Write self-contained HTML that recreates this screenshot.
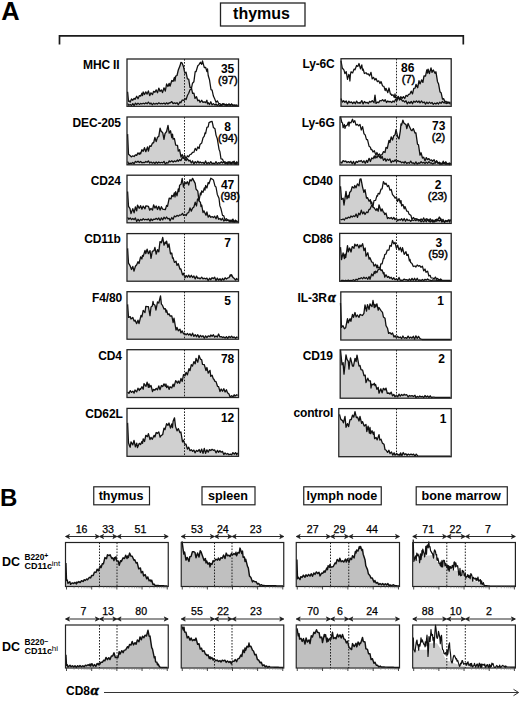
<!DOCTYPE html>
<html><head><meta charset="utf-8"><style>
html,body{margin:0;padding:0;background:#fff;}
body{width:520px;height:708px;overflow:hidden;}
svg{display:block;font-family:"Liberation Sans", sans-serif;}
</style></head><body>
<svg width="520" height="708" viewBox="0 0 520 708">
<rect x="0" y="0" width="520" height="708" fill="#fff"/>
<text x="1.20" y="19.80" font-family="Liberation Sans" font-size="25.00" font-weight="bold" text-anchor="start" fill="#000" textLength="18.4" lengthAdjust="spacingAndGlyphs">A</text>
<rect x="220.50" y="3.00" width="84.50" height="23.00" fill="none" stroke="#222" stroke-width="1.30"/>
<text x="261.50" y="19.30" font-family="Liberation Sans" font-size="16.00" font-weight="bold" text-anchor="middle" fill="#000" >thymus</text>
<path d="M59.5,44.6 V35.8 H463.3 V44.6" fill="none" stroke="#1a1a1a" stroke-width="1.7"/>
<polygon points="127.6,105.8 127.6,91.7 128.5,101.3 129.5,101.0 130.2,102.1 131.5,98.9 132.8,100.2 134.1,98.4 135.0,99.4 136.7,96.3 138.0,98.7 139.3,95.7 140.6,96.2 141.9,93.3 142.5,95.5 143.2,92.0 144.5,94.5 145.8,91.9 147.1,94.1 148.4,90.9 149.7,95.7 151.0,92.8 152.5,94.6 153.6,91.3 154.9,92.3 156.2,89.9 157.5,92.7 158.8,88.1 160.1,91.4 161.4,89.9 162.5,92.6 164.0,87.8 165.3,91.1 166.6,84.0 167.9,86.5 169.2,83.3 170.0,86.2 171.8,80.5 173.1,81.4 174.4,77.4 175.0,81.0 175.7,76.1 177.0,75.5 178.3,70.0 180.0,65.8 180.9,62.5 182.0,62.8 183.5,66.7 184.8,73.1 186.0,72.2 187.4,78.8 188.7,79.1 190.0,87.4 191.3,87.4 192.6,93.3 193.9,93.2 195.0,98.3 196.5,96.7 197.8,100.8 199.1,100.1 200.0,102.3 201.7,100.3 203.0,102.4 204.3,101.8 205.6,102.6 206.9,100.2 207.5,103.9 208.2,102.7 209.5,104.5 210.8,101.8 212.1,104.9 213.4,103.6 215.0,105.1 216.0,104.0 217.3,105.5 218.6,104.5 219.9,105.7 221.2,105.0 222.5,105.1 223.8,103.6 225.1,105.0 226.4,104.1 227.7,105.4 229.0,104.3 230.3,105.8 231.6,104.0 232.9,105.8 234.2,105.1 235.5,105.8 236.8,105.1 237.5,105.8 237.5,105.8" fill="#d0d0d0" stroke="none"/>
<polyline points="127.6,91.7 128.5,101.3 129.5,101.0 130.2,102.1 131.5,98.9 132.8,100.2 134.1,98.4 135.0,99.4 136.7,96.3 138.0,98.7 139.3,95.7 140.6,96.2 141.9,93.3 142.5,95.5 143.2,92.0 144.5,94.5 145.8,91.9 147.1,94.1 148.4,90.9 149.7,95.7 151.0,92.8 152.5,94.6 153.6,91.3 154.9,92.3 156.2,89.9 157.5,92.7 158.8,88.1 160.1,91.4 161.4,89.9 162.5,92.6 164.0,87.8 165.3,91.1 166.6,84.0 167.9,86.5 169.2,83.3 170.0,86.2 171.8,80.5 173.1,81.4 174.4,77.4 175.0,81.0 175.7,76.1 177.0,75.5 178.3,70.0 180.0,65.8 180.9,62.5 182.0,62.8 183.5,66.7 184.8,73.1 186.0,72.2 187.4,78.8 188.7,79.1 190.0,87.4 191.3,87.4 192.6,93.3 193.9,93.2 195.0,98.3 196.5,96.7 197.8,100.8 199.1,100.1 200.0,102.3 201.7,100.3 203.0,102.4 204.3,101.8 205.6,102.6 206.9,100.2 207.5,103.9 208.2,102.7 209.5,104.5 210.8,101.8 212.1,104.9 213.4,103.6 215.0,105.1 216.0,104.0 217.3,105.5 218.6,104.5 219.9,105.7 221.2,105.0 222.5,105.1 223.8,103.6 225.1,105.0 226.4,104.1 227.7,105.4 229.0,104.3 230.3,105.8 231.6,104.0 232.9,105.8 234.2,105.1 235.5,105.8 236.8,105.1 237.5,105.8" fill="none" stroke="#111" stroke-width="1.30" stroke-linejoin="round"/>
<polyline points="127.6,103.5 128.9,105.3 130.2,104.5 131.5,105.5 132.8,103.6 134.1,105.7 135.4,103.1 136.7,104.5 138.0,103.1 139.3,104.4 140.6,103.4 141.9,104.0 143.2,103.2 144.5,103.9 145.8,102.8 147.1,103.8 148.4,102.1 150.0,104.1 151.0,103.0 152.3,104.8 153.6,103.2 154.9,104.2 156.2,103.3 157.5,104.1 158.8,102.8 160.1,103.8 161.4,103.3 162.7,103.8 164.0,103.1 165.3,104.2 166.6,102.8 167.9,104.0 169.2,102.7 170.0,103.1 171.8,101.6 173.1,103.7 174.4,102.8 175.7,103.6 177.0,102.7 178.3,104.8 180.0,101.9 180.9,102.8 182.2,100.0 184.0,100.4 184.8,98.4 186.1,99.6 187.5,95.3 188.7,93.3 190.0,89.8 191.3,89.1 192.5,83.2 193.9,81.7 195.2,71.6 196.0,71.7 197.8,65.8 199.0,64.6 200.4,62.2 201.7,64.4 202.5,60.9 204.3,67.6 205.6,67.3 206.9,71.6 207.5,68.8 208.2,75.5 209.5,79.8 211.0,89.6 212.1,90.1 213.4,96.1 215.0,99.6 216.0,102.3 217.3,100.8 218.6,103.3 220.0,103.5 221.2,105.6 222.5,103.7 223.8,104.8 225.1,104.6 226.4,105.8 227.0,104.5 227.7,105.2 229.0,104.0 230.3,104.9 231.6,104.2 232.9,105.2 234.2,105.2 235.5,105.2 236.8,105.3 237.5,105.3" fill="none" stroke="#111" stroke-width="1.25" stroke-linejoin="round"/>
<line x1="184.50" y1="59.00" x2="184.50" y2="106.30" stroke="#222" stroke-width="1" stroke-dasharray="1.6,1.4"/>
<rect x="127.00" y="59.00" width="111.50" height="47.30" fill="none" stroke="#222" stroke-width="1.30"/>
<text x="119.50" y="68.80" font-family="Liberation Sans" font-size="12.00" font-weight="bold" text-anchor="end" fill="#000" letter-spacing="-0.15">MHC II</text>
<text x="227.60" y="72.70" font-family="Liberation Sans" font-size="12.00" font-weight="bold" text-anchor="middle" fill="#000" >35</text>
<text x="227.80" y="84.00" font-family="Liberation Sans" font-size="11.00" font-weight="normal" text-anchor="middle" fill="#000" stroke="#000" stroke-width="0.45">(97)</text>
<polygon points="127.6,164.3 127.6,134.1 128.5,154.2 130.0,155.5 131.5,156.9 132.5,155.9 134.1,156.5 135.4,154.8 136.7,155.4 138.0,152.9 139.3,154.3 140.0,152.8 140.6,153.8 141.9,149.7 143.2,151.3 144.5,147.7 145.8,151.7 147.5,146.9 148.4,151.0 149.7,145.8 151.0,146.4 152.5,143.0 153.6,142.9 154.9,137.5 156.2,141.6 157.5,137.3 158.8,136.4 160.1,128.2 161.0,131.0 162.7,132.7 164.0,139.4 165.0,133.6 166.6,131.5 168.0,125.4 169.2,133.1 170.5,130.7 171.8,137.7 172.5,134.2 173.1,139.2 174.4,138.5 175.7,145.2 177.5,145.4 178.3,151.1 179.6,149.8 181.0,157.0 182.2,154.5 183.5,158.0 184.5,158.1 186.1,160.6 187.4,158.8 189.0,161.0 190.0,160.2 191.3,163.0 192.6,160.9 193.9,163.9 195.2,161.6 196.5,163.1 197.8,161.2 199.1,163.1 200.0,161.9 201.7,163.0 203.0,162.3 204.3,163.7 205.6,160.9 206.9,163.9 208.2,162.4 209.5,163.7 210.8,161.7 212.1,163.7 213.4,163.1 214.7,163.8 216.0,161.7 217.3,163.9 218.6,162.6 219.9,163.4 221.2,161.8 222.5,163.0 223.8,161.7 225.1,163.7 226.4,162.6 227.7,164.3 229.0,161.6 230.3,163.9 231.6,162.3 232.9,162.8 234.2,161.2 235.5,164.3 236.8,161.7 237.5,163.2 237.5,164.3" fill="#d0d0d0" stroke="none"/>
<polyline points="127.6,134.1 128.5,154.2 130.0,155.5 131.5,156.9 132.5,155.9 134.1,156.5 135.4,154.8 136.7,155.4 138.0,152.9 139.3,154.3 140.0,152.8 140.6,153.8 141.9,149.7 143.2,151.3 144.5,147.7 145.8,151.7 147.5,146.9 148.4,151.0 149.7,145.8 151.0,146.4 152.5,143.0 153.6,142.9 154.9,137.5 156.2,141.6 157.5,137.3 158.8,136.4 160.1,128.2 161.0,131.0 162.7,132.7 164.0,139.4 165.0,133.6 166.6,131.5 168.0,125.4 169.2,133.1 170.5,130.7 171.8,137.7 172.5,134.2 173.1,139.2 174.4,138.5 175.7,145.2 177.5,145.4 178.3,151.1 179.6,149.8 181.0,157.0 182.2,154.5 183.5,158.0 184.5,158.1 186.1,160.6 187.4,158.8 189.0,161.0 190.0,160.2 191.3,163.0 192.6,160.9 193.9,163.9 195.2,161.6 196.5,163.1 197.8,161.2 199.1,163.1 200.0,161.9 201.7,163.0 203.0,162.3 204.3,163.7 205.6,160.9 206.9,163.9 208.2,162.4 209.5,163.7 210.8,161.7 212.1,163.7 213.4,163.1 214.7,163.8 216.0,161.7 217.3,163.9 218.6,162.6 219.9,163.4 221.2,161.8 222.5,163.0 223.8,161.7 225.1,163.7 226.4,162.6 227.7,164.3 229.0,161.6 230.3,163.9 231.6,162.3 232.9,162.8 234.2,161.2 235.5,164.3 236.8,161.7 237.5,163.2" fill="none" stroke="#111" stroke-width="1.30" stroke-linejoin="round"/>
<polyline points="127.6,161.5 128.9,164.1 130.2,163.1 131.5,163.6 132.8,162.5 134.1,163.8 135.4,161.4 136.7,162.3 138.0,161.2 139.3,162.5 140.6,161.4 141.9,162.8 143.2,162.4 144.5,162.7 145.8,161.5 147.1,162.3 148.4,160.9 149.7,163.1 151.0,161.9 152.3,163.2 153.6,162.2 154.9,163.5 156.2,162.0 157.5,163.3 158.8,162.0 160.1,163.0 161.4,162.3 162.7,162.9 164.0,161.3 165.3,164.2 166.6,162.5 167.9,163.2 169.2,160.8 170.0,162.0 171.8,160.7 173.1,162.2 174.4,160.9 175.7,161.7 177.5,160.0 178.3,161.3 179.6,159.6 180.9,160.7 182.2,157.7 183.5,158.2 184.5,155.3 186.1,158.8 187.4,155.8 188.7,156.8 190.0,154.5 191.3,154.2 192.5,152.4 193.9,152.2 195.2,148.4 196.5,150.5 197.8,146.9 199.1,148.6 200.0,144.4 201.7,143.1 203.0,137.8 204.3,136.1 205.0,132.8 205.6,133.7 206.9,127.3 208.2,126.9 209.0,122.6 211.0,121.6 212.1,121.4 213.4,127.5 215.0,128.8 216.0,135.1 217.3,138.8 219.0,149.2 219.9,151.6 221.0,158.9 222.5,159.2 223.8,162.2 225.0,161.9 226.4,162.7 227.7,162.1 229.0,162.9 230.3,162.0 231.6,164.1 232.9,161.6 234.2,164.0 235.5,162.9 236.8,164.3 237.5,162.6" fill="none" stroke="#111" stroke-width="1.25" stroke-linejoin="round"/>
<line x1="184.50" y1="117.00" x2="184.50" y2="164.80" stroke="#222" stroke-width="1" stroke-dasharray="1.6,1.4"/>
<rect x="127.00" y="117.00" width="111.50" height="47.80" fill="none" stroke="#222" stroke-width="1.30"/>
<text x="120.90" y="126.80" font-family="Liberation Sans" font-size="12.00" font-weight="bold" text-anchor="end" fill="#000" letter-spacing="-0.15">DEC-205</text>
<text x="227.60" y="130.70" font-family="Liberation Sans" font-size="12.00" font-weight="bold" text-anchor="middle" fill="#000" >8</text>
<text x="227.80" y="142.00" font-family="Liberation Sans" font-size="11.00" font-weight="normal" text-anchor="middle" fill="#000" stroke="#000" stroke-width="0.45">(94)</text>
<polygon points="127.6,222.3 127.6,191.5 128.5,206.3 130.0,208.7 131.0,213.6 132.8,208.6 134.1,212.9 135.4,207.0 136.7,210.9 137.5,205.2 139.3,208.3 140.6,205.7 141.9,209.2 143.2,206.1 145.0,208.8 145.8,205.8 147.5,206.1 148.4,206.3 149.7,210.2 151.0,208.4 152.5,210.1 153.6,204.8 154.9,208.1 156.2,206.0 157.5,209.5 158.8,206.3 160.1,210.1 161.4,206.7 162.7,209.2 164.0,209.4 165.3,209.7 166.6,205.4 167.5,206.4 169.2,198.2 171.0,198.9 171.8,195.3 173.1,196.6 174.4,192.8 175.0,196.8 175.7,191.7 177.0,195.9 178.3,188.8 179.0,191.5 179.6,185.2 181.0,184.3 182.2,178.4 183.5,187.1 184.8,182.0 186.0,183.8 187.4,181.7 188.7,185.0 190.0,179.7 191.3,180.9 192.6,178.4 194.0,181.1 195.2,183.4 196.0,189.0 197.8,191.2 199.0,201.0 200.4,202.2 201.0,206.5 201.7,205.0 203.0,212.5 204.0,210.9 206.0,215.2 206.9,212.0 208.2,217.1 209.5,215.3 210.8,217.3 212.1,216.6 213.4,217.6 214.7,216.2 216.0,218.8 217.3,215.6 218.6,219.3 220.0,218.5 221.2,220.1 222.5,218.2 223.8,221.1 225.0,219.9 226.4,220.7 227.7,219.8 229.0,221.1 230.3,220.1 231.6,221.4 232.9,219.1 234.2,222.3 235.5,220.1 236.8,221.9 237.5,221.6 237.5,222.3" fill="#d0d0d0" stroke="none"/>
<polyline points="127.6,191.5 128.5,206.3 130.0,208.7 131.0,213.6 132.8,208.6 134.1,212.9 135.4,207.0 136.7,210.9 137.5,205.2 139.3,208.3 140.6,205.7 141.9,209.2 143.2,206.1 145.0,208.8 145.8,205.8 147.5,206.1 148.4,206.3 149.7,210.2 151.0,208.4 152.5,210.1 153.6,204.8 154.9,208.1 156.2,206.0 157.5,209.5 158.8,206.3 160.1,210.1 161.4,206.7 162.7,209.2 164.0,209.4 165.3,209.7 166.6,205.4 167.5,206.4 169.2,198.2 171.0,198.9 171.8,195.3 173.1,196.6 174.4,192.8 175.0,196.8 175.7,191.7 177.0,195.9 178.3,188.8 179.0,191.5 179.6,185.2 181.0,184.3 182.2,178.4 183.5,187.1 184.8,182.0 186.0,183.8 187.4,181.7 188.7,185.0 190.0,179.7 191.3,180.9 192.6,178.4 194.0,181.1 195.2,183.4 196.0,189.0 197.8,191.2 199.0,201.0 200.4,202.2 201.0,206.5 201.7,205.0 203.0,212.5 204.0,210.9 206.0,215.2 206.9,212.0 208.2,217.1 209.5,215.3 210.8,217.3 212.1,216.6 213.4,217.6 214.7,216.2 216.0,218.8 217.3,215.6 218.6,219.3 220.0,218.5 221.2,220.1 222.5,218.2 223.8,221.1 225.0,219.9 226.4,220.7 227.7,219.8 229.0,221.1 230.3,220.1 231.6,221.4 232.9,219.1 234.2,222.3 235.5,220.1 236.8,221.9 237.5,221.6" fill="none" stroke="#111" stroke-width="1.30" stroke-linejoin="round"/>
<polyline points="127.6,217.4 128.9,219.3 130.2,218.0 131.5,219.7 132.8,218.4 134.1,219.7 135.4,218.0 136.7,221.5 138.0,219.2 139.3,221.2 140.6,219.3 141.9,220.3 143.2,218.6 144.5,219.9 145.8,219.3 147.1,219.9 148.4,218.8 150.0,221.2 151.0,218.8 152.3,220.5 153.6,219.2 154.9,219.4 156.2,218.3 157.5,219.6 158.8,218.0 160.1,220.5 161.4,217.9 162.7,219.9 164.0,217.2 165.3,218.9 166.6,217.0 167.9,218.8 169.2,218.4 170.0,220.9 171.8,217.5 173.1,219.3 174.4,216.0 175.7,216.8 177.0,215.3 178.3,216.2 179.6,215.0 180.9,215.2 182.5,213.3 183.5,215.4 184.8,214.4 186.1,215.6 187.4,213.0 188.7,212.7 190.0,207.9 191.3,211.2 192.5,208.3 193.9,207.0 195.2,202.1 196.5,206.0 197.5,199.0 199.1,200.4 200.4,193.0 201.0,194.8 201.7,190.9 203.0,192.4 204.3,187.8 205.0,190.1 205.6,185.5 206.9,188.0 208.2,182.5 209.0,183.7 210.8,178.2 212.5,179.3 213.4,179.9 215.0,186.1 216.0,187.0 217.3,194.4 219.0,198.2 219.9,205.9 221.0,208.8 222.5,215.4 223.8,215.9 225.0,219.7 226.4,218.7 227.7,220.3 229.0,220.1 230.0,221.9 231.6,220.2 232.9,222.0 234.2,221.1 235.5,221.8 236.8,220.9 237.5,222.3" fill="none" stroke="#111" stroke-width="1.25" stroke-linejoin="round"/>
<line x1="184.50" y1="175.20" x2="184.50" y2="222.80" stroke="#222" stroke-width="1" stroke-dasharray="1.6,1.4"/>
<rect x="127.00" y="175.20" width="111.50" height="47.60" fill="none" stroke="#222" stroke-width="1.30"/>
<text x="120.90" y="185.00" font-family="Liberation Sans" font-size="12.00" font-weight="bold" text-anchor="end" fill="#000" letter-spacing="-0.15">CD24</text>
<text x="227.60" y="188.90" font-family="Liberation Sans" font-size="12.00" font-weight="bold" text-anchor="middle" fill="#000" >47</text>
<text x="230.20" y="200.20" font-family="Liberation Sans" font-size="11.00" font-weight="normal" text-anchor="middle" fill="#000" stroke="#000" stroke-width="0.45">(98)</text>
<polygon points="127.6,280.7 127.6,248.4 128.5,263.2 130.0,265.6 131.5,269.5 132.8,266.4 134.0,271.1 135.4,266.2 136.7,264.7 138.0,261.8 139.0,263.5 140.6,256.9 141.9,259.0 142.5,255.3 143.2,256.4 145.0,250.4 145.8,253.6 147.1,249.2 148.4,253.7 150.0,250.6 151.0,258.3 152.3,251.3 154.0,250.6 154.9,247.3 156.2,254.1 157.5,249.7 158.8,251.8 160.0,241.6 161.4,242.7 162.7,237.3 164.0,245.2 165.3,242.0 166.0,243.6 166.6,241.2 167.9,247.4 169.0,243.9 170.5,253.9 171.8,253.0 172.5,258.1 173.1,257.8 174.4,262.4 176.0,261.2 177.0,265.3 178.3,263.7 180.0,269.2 180.9,268.9 182.5,274.9 183.5,273.3 185.0,277.7 186.1,275.5 187.4,277.2 188.7,275.1 190.0,277.3 191.3,275.3 192.6,277.5 193.9,276.0 195.2,278.9 196.5,276.1 197.8,278.4 199.1,277.9 200.0,278.9 201.7,277.2 203.0,278.8 204.3,278.2 205.6,278.9 206.9,278.1 208.2,280.7 209.5,278.3 210.8,279.7 212.1,277.7 213.4,278.6 214.7,277.2 216.0,280.7 217.3,278.1 218.6,280.2 220.0,278.7 221.2,280.7 222.5,278.4 223.8,280.1 225.1,277.8 226.4,279.0 228.0,277.8 229.0,277.7 230.3,274.8 231.0,276.1 231.6,274.7 232.9,277.4 234.0,278.2 235.5,280.0 236.8,278.5 237.5,280.1 237.5,280.7" fill="#d0d0d0" stroke="none"/>
<polyline points="127.6,248.4 128.5,263.2 130.0,265.6 131.5,269.5 132.8,266.4 134.0,271.1 135.4,266.2 136.7,264.7 138.0,261.8 139.0,263.5 140.6,256.9 141.9,259.0 142.5,255.3 143.2,256.4 145.0,250.4 145.8,253.6 147.1,249.2 148.4,253.7 150.0,250.6 151.0,258.3 152.3,251.3 154.0,250.6 154.9,247.3 156.2,254.1 157.5,249.7 158.8,251.8 160.0,241.6 161.4,242.7 162.7,237.3 164.0,245.2 165.3,242.0 166.0,243.6 166.6,241.2 167.9,247.4 169.0,243.9 170.5,253.9 171.8,253.0 172.5,258.1 173.1,257.8 174.4,262.4 176.0,261.2 177.0,265.3 178.3,263.7 180.0,269.2 180.9,268.9 182.5,274.9 183.5,273.3 185.0,277.7 186.1,275.5 187.4,277.2 188.7,275.1 190.0,277.3 191.3,275.3 192.6,277.5 193.9,276.0 195.2,278.9 196.5,276.1 197.8,278.4 199.1,277.9 200.0,278.9 201.7,277.2 203.0,278.8 204.3,278.2 205.6,278.9 206.9,278.1 208.2,280.7 209.5,278.3 210.8,279.7 212.1,277.7 213.4,278.6 214.7,277.2 216.0,280.7 217.3,278.1 218.6,280.2 220.0,278.7 221.2,280.7 222.5,278.4 223.8,280.1 225.1,277.8 226.4,279.0 228.0,277.8 229.0,277.7 230.3,274.8 231.0,276.1 231.6,274.7 232.9,277.4 234.0,278.2 235.5,280.0 236.8,278.5 237.5,280.1" fill="none" stroke="#111" stroke-width="1.30" stroke-linejoin="round"/>
<line x1="184.50" y1="233.60" x2="184.50" y2="281.20" stroke="#222" stroke-width="1" stroke-dasharray="1.6,1.4"/>
<rect x="127.00" y="233.60" width="111.50" height="47.60" fill="none" stroke="#222" stroke-width="1.30"/>
<text x="120.80" y="243.40" font-family="Liberation Sans" font-size="12.00" font-weight="bold" text-anchor="end" fill="#000" letter-spacing="-0.15">CD11b</text>
<text x="227.60" y="247.30" font-family="Liberation Sans" font-size="12.00" font-weight="bold" text-anchor="middle" fill="#000" >7</text>
<polygon points="127.6,338.7 127.6,304.4 128.5,317.4 130.2,316.6 131.0,319.0 132.8,317.5 134.1,321.1 135.0,320.1 136.7,323.6 138.0,320.2 139.0,323.6 141.0,315.4 141.9,316.9 143.2,310.3 145.0,312.5 145.8,306.4 147.5,306.6 148.4,306.6 150.0,315.6 151.0,307.0 152.3,306.0 153.0,301.5 153.6,304.4 154.9,305.0 156.0,310.0 157.5,301.9 158.8,303.0 160.5,295.8 161.4,304.1 162.5,305.4 164.0,309.0 165.3,308.7 166.0,312.2 166.6,310.1 167.9,314.6 169.2,313.9 170.0,316.0 171.8,315.8 173.1,322.5 174.0,318.2 176.0,330.0 177.0,327.4 178.3,330.8 180.0,329.2 180.9,332.8 182.2,330.9 183.5,333.8 184.5,333.3 186.1,334.9 187.4,333.4 188.7,335.1 190.0,333.8 191.3,335.8 192.6,333.2 193.9,336.4 195.2,334.7 196.5,336.7 197.8,334.7 199.1,337.4 200.4,335.4 201.7,336.8 203.0,335.7 204.3,338.2 205.6,335.9 206.9,337.5 208.2,335.8 210.0,336.7 210.8,334.9 212.1,336.3 213.4,334.7 214.7,337.1 216.0,335.9 217.3,337.1 218.6,334.0 219.9,336.9 221.2,336.6 222.5,337.6 223.8,336.9 225.1,338.1 226.4,336.6 227.7,338.3 229.0,336.4 230.3,337.5 231.6,336.2 232.9,337.7 234.2,336.9 235.5,338.3 236.8,337.0 237.5,337.9 237.5,338.7" fill="#d0d0d0" stroke="none"/>
<polyline points="127.6,304.4 128.5,317.4 130.2,316.6 131.0,319.0 132.8,317.5 134.1,321.1 135.0,320.1 136.7,323.6 138.0,320.2 139.0,323.6 141.0,315.4 141.9,316.9 143.2,310.3 145.0,312.5 145.8,306.4 147.5,306.6 148.4,306.6 150.0,315.6 151.0,307.0 152.3,306.0 153.0,301.5 153.6,304.4 154.9,305.0 156.0,310.0 157.5,301.9 158.8,303.0 160.5,295.8 161.4,304.1 162.5,305.4 164.0,309.0 165.3,308.7 166.0,312.2 166.6,310.1 167.9,314.6 169.2,313.9 170.0,316.0 171.8,315.8 173.1,322.5 174.0,318.2 176.0,330.0 177.0,327.4 178.3,330.8 180.0,329.2 180.9,332.8 182.2,330.9 183.5,333.8 184.5,333.3 186.1,334.9 187.4,333.4 188.7,335.1 190.0,333.8 191.3,335.8 192.6,333.2 193.9,336.4 195.2,334.7 196.5,336.7 197.8,334.7 199.1,337.4 200.4,335.4 201.7,336.8 203.0,335.7 204.3,338.2 205.6,335.9 206.9,337.5 208.2,335.8 210.0,336.7 210.8,334.9 212.1,336.3 213.4,334.7 214.7,337.1 216.0,335.9 217.3,337.1 218.6,334.0 219.9,336.9 221.2,336.6 222.5,337.6 223.8,336.9 225.1,338.1 226.4,336.6 227.7,338.3 229.0,336.4 230.3,337.5 231.6,336.2 232.9,337.7 234.2,336.9 235.5,338.3 236.8,337.0 237.5,337.9" fill="none" stroke="#111" stroke-width="1.30" stroke-linejoin="round"/>
<line x1="184.50" y1="291.70" x2="184.50" y2="339.20" stroke="#222" stroke-width="1" stroke-dasharray="1.6,1.4"/>
<rect x="127.00" y="291.70" width="111.50" height="47.50" fill="none" stroke="#222" stroke-width="1.30"/>
<text x="122.00" y="301.50" font-family="Liberation Sans" font-size="12.00" font-weight="bold" text-anchor="end" fill="#000" letter-spacing="-0.15">F4/80</text>
<text x="227.60" y="305.40" font-family="Liberation Sans" font-size="12.00" font-weight="bold" text-anchor="middle" fill="#000" >5</text>
<polygon points="127.6,397.0 127.6,392.0 128.9,393.4 130.2,390.7 131.5,392.4 132.8,391.1 134.1,393.1 135.0,390.0 136.7,391.9 138.0,388.2 139.3,390.5 140.0,388.6 140.6,389.3 141.9,386.7 143.2,389.2 144.0,383.6 146.0,386.4 147.1,382.1 148.4,387.3 149.0,383.9 149.7,387.1 151.0,385.4 152.5,391.5 153.6,389.4 154.9,390.2 156.2,388.4 157.5,389.7 158.8,385.9 160.0,389.7 161.4,385.5 162.7,386.6 164.0,383.9 165.3,386.3 166.0,384.0 166.6,387.5 167.9,386.0 169.2,389.4 170.0,386.7 171.8,387.9 173.1,384.1 174.0,386.7 175.7,380.6 177.5,383.1 178.3,381.0 179.6,383.3 181.0,378.4 182.2,381.5 183.5,374.6 185.0,375.8 186.1,372.3 187.4,374.9 189.0,368.7 190.0,370.6 191.3,364.6 192.5,366.1 193.9,361.6 195.2,363.8 196.0,358.3 197.8,362.2 199.0,355.4 200.4,359.1 201.7,359.8 202.5,364.3 204.3,364.7 206.0,370.5 206.9,367.5 208.2,373.1 210.0,370.4 210.8,376.3 212.1,375.3 213.4,379.1 214.0,379.1 214.7,381.2 216.0,381.6 217.5,386.3 218.6,386.6 220.0,391.6 221.2,389.0 222.5,391.2 223.8,388.7 225.1,392.0 226.4,389.8 227.5,392.8 229.0,394.0 230.0,396.9 231.6,395.7 232.9,396.8 234.2,394.8 235.0,396.1 236.8,394.7 237.5,395.7 237.5,397.0" fill="#d0d0d0" stroke="none"/>
<polyline points="127.6,392.0 128.9,393.4 130.2,390.7 131.5,392.4 132.8,391.1 134.1,393.1 135.0,390.0 136.7,391.9 138.0,388.2 139.3,390.5 140.0,388.6 140.6,389.3 141.9,386.7 143.2,389.2 144.0,383.6 146.0,386.4 147.1,382.1 148.4,387.3 149.0,383.9 149.7,387.1 151.0,385.4 152.5,391.5 153.6,389.4 154.9,390.2 156.2,388.4 157.5,389.7 158.8,385.9 160.0,389.7 161.4,385.5 162.7,386.6 164.0,383.9 165.3,386.3 166.0,384.0 166.6,387.5 167.9,386.0 169.2,389.4 170.0,386.7 171.8,387.9 173.1,384.1 174.0,386.7 175.7,380.6 177.5,383.1 178.3,381.0 179.6,383.3 181.0,378.4 182.2,381.5 183.5,374.6 185.0,375.8 186.1,372.3 187.4,374.9 189.0,368.7 190.0,370.6 191.3,364.6 192.5,366.1 193.9,361.6 195.2,363.8 196.0,358.3 197.8,362.2 199.0,355.4 200.4,359.1 201.7,359.8 202.5,364.3 204.3,364.7 206.0,370.5 206.9,367.5 208.2,373.1 210.0,370.4 210.8,376.3 212.1,375.3 213.4,379.1 214.0,379.1 214.7,381.2 216.0,381.6 217.5,386.3 218.6,386.6 220.0,391.6 221.2,389.0 222.5,391.2 223.8,388.7 225.1,392.0 226.4,389.8 227.5,392.8 229.0,394.0 230.0,396.9 231.6,395.7 232.9,396.8 234.2,394.8 235.0,396.1 236.8,394.7 237.5,395.7" fill="none" stroke="#111" stroke-width="1.30" stroke-linejoin="round"/>
<line x1="184.50" y1="349.70" x2="184.50" y2="397.50" stroke="#222" stroke-width="1" stroke-dasharray="1.6,1.4"/>
<rect x="127.00" y="349.70" width="111.50" height="47.80" fill="none" stroke="#222" stroke-width="1.30"/>
<text x="121.80" y="359.50" font-family="Liberation Sans" font-size="12.00" font-weight="bold" text-anchor="end" fill="#000" letter-spacing="-0.15">CD4</text>
<text x="227.60" y="363.40" font-family="Liberation Sans" font-size="12.00" font-weight="bold" text-anchor="middle" fill="#000" >78</text>
<polygon points="127.6,455.8 127.6,422.9 128.5,442.8 129.5,445.9 130.2,447.2 131.0,441.8 132.8,444.9 134.0,440.5 135.4,446.8 136.7,443.2 137.5,447.6 139.3,443.3 140.6,444.5 141.9,441.5 142.5,443.3 143.2,438.8 144.5,441.5 145.8,435.4 147.5,436.6 148.4,433.6 150.0,439.6 151.0,437.4 152.3,439.3 154.0,435.4 154.9,437.0 156.2,432.5 157.5,433.4 158.8,431.9 160.1,437.1 161.0,435.7 162.7,434.5 164.0,428.2 165.0,429.6 166.6,423.7 167.9,425.4 169.0,423.0 170.5,428.1 171.8,423.9 172.5,427.6 173.1,421.3 174.5,417.8 175.5,426.4 177.0,430.9 178.3,428.6 180.0,432.7 180.9,432.0 182.5,441.8 183.5,440.2 184.8,444.1 186.0,444.2 187.4,449.1 188.7,447.2 190.0,450.7 191.3,449.7 192.6,451.3 193.9,450.1 195.0,452.8 196.5,450.4 197.8,451.4 199.1,449.5 200.4,452.5 201.7,449.1 203.0,453.4 204.3,448.5 205.6,453.3 206.9,449.8 208.2,452.1 209.5,449.6 210.8,450.5 212.1,449.3 213.4,450.3 214.7,449.9 216.0,452.8 217.5,450.4 218.6,452.3 219.9,450.7 221.2,452.2 222.5,451.4 223.8,454.6 225.0,452.9 226.4,454.2 227.7,453.5 229.0,454.8 230.3,454.1 231.6,454.8 232.9,452.6 234.2,454.2 235.5,452.6 236.8,454.8 237.5,452.8 237.5,455.8" fill="#d0d0d0" stroke="none"/>
<polyline points="127.6,422.9 128.5,442.8 129.5,445.9 130.2,447.2 131.0,441.8 132.8,444.9 134.0,440.5 135.4,446.8 136.7,443.2 137.5,447.6 139.3,443.3 140.6,444.5 141.9,441.5 142.5,443.3 143.2,438.8 144.5,441.5 145.8,435.4 147.5,436.6 148.4,433.6 150.0,439.6 151.0,437.4 152.3,439.3 154.0,435.4 154.9,437.0 156.2,432.5 157.5,433.4 158.8,431.9 160.1,437.1 161.0,435.7 162.7,434.5 164.0,428.2 165.0,429.6 166.6,423.7 167.9,425.4 169.0,423.0 170.5,428.1 171.8,423.9 172.5,427.6 173.1,421.3 174.5,417.8 175.5,426.4 177.0,430.9 178.3,428.6 180.0,432.7 180.9,432.0 182.5,441.8 183.5,440.2 184.8,444.1 186.0,444.2 187.4,449.1 188.7,447.2 190.0,450.7 191.3,449.7 192.6,451.3 193.9,450.1 195.0,452.8 196.5,450.4 197.8,451.4 199.1,449.5 200.4,452.5 201.7,449.1 203.0,453.4 204.3,448.5 205.6,453.3 206.9,449.8 208.2,452.1 209.5,449.6 210.8,450.5 212.1,449.3 213.4,450.3 214.7,449.9 216.0,452.8 217.5,450.4 218.6,452.3 219.9,450.7 221.2,452.2 222.5,451.4 223.8,454.6 225.0,452.9 226.4,454.2 227.7,453.5 229.0,454.8 230.3,454.1 231.6,454.8 232.9,452.6 234.2,454.2 235.5,452.6 236.8,454.8 237.5,452.8" fill="none" stroke="#111" stroke-width="1.30" stroke-linejoin="round"/>
<line x1="184.50" y1="408.40" x2="184.50" y2="456.30" stroke="#222" stroke-width="1" stroke-dasharray="1.6,1.4"/>
<rect x="127.00" y="408.40" width="111.50" height="47.90" fill="none" stroke="#222" stroke-width="1.30"/>
<text x="122.60" y="418.20" font-family="Liberation Sans" font-size="12.00" font-weight="bold" text-anchor="end" fill="#000" letter-spacing="-0.15">CD62L</text>
<text x="227.60" y="422.10" font-family="Liberation Sans" font-size="12.00" font-weight="bold" text-anchor="middle" fill="#000" >12</text>
<polygon points="341.0,105.8 341.0,98.5 342.3,102.1 343.6,100.7 344.9,102.2 346.2,100.9 347.5,103.9 348.8,101.2 350.1,102.7 351.4,101.9 352.7,103.5 354.0,101.9 355.3,103.7 356.6,101.1 357.9,103.1 359.2,102.5 360.0,103.3 361.8,100.6 363.1,103.9 364.4,101.5 365.7,102.8 367.0,102.3 368.3,103.5 369.6,101.4 370.9,102.2 372.2,100.6 374.0,102.7 375.0,95.2 376.0,103.4 377.4,102.1 378.7,102.7 380.0,100.5 381.3,100.9 382.6,99.6 383.9,101.2 385.2,99.7 386.5,102.5 387.8,100.9 389.1,102.0 390.0,101.3 391.7,102.5 393.0,101.0 394.3,102.1 395.6,99.2 396.9,100.7 398.2,96.3 400.0,99.4 400.8,96.7 402.1,98.4 403.4,96.6 404.7,98.5 406.0,95.4 407.5,96.3 408.6,94.3 409.9,94.1 411.2,91.2 412.5,93.9 413.8,88.3 415.1,88.2 416.0,84.4 417.7,87.7 419.0,80.7 420.0,83.9 421.6,79.9 422.9,82.4 424.0,75.8 425.5,76.2 426.8,69.9 427.5,73.0 428.1,69.2 429.4,73.6 431.0,67.8 432.0,72.4 433.3,70.0 435.0,73.3 435.9,71.7 437.5,81.7 438.5,83.7 440.0,91.9 441.1,92.7 442.5,99.1 443.7,98.7 445.0,102.0 446.0,101.3 447.6,103.2 448.9,102.1 450.5,104.4 450.5,105.8" fill="#d0d0d0" stroke="none"/>
<polyline points="341.0,98.5 342.3,102.1 343.6,100.7 344.9,102.2 346.2,100.9 347.5,103.9 348.8,101.2 350.1,102.7 351.4,101.9 352.7,103.5 354.0,101.9 355.3,103.7 356.6,101.1 357.9,103.1 359.2,102.5 360.0,103.3 361.8,100.6 363.1,103.9 364.4,101.5 365.7,102.8 367.0,102.3 368.3,103.5 369.6,101.4 370.9,102.2 372.2,100.6 374.0,102.7 375.0,95.2 376.0,103.4 377.4,102.1 378.7,102.7 380.0,100.5 381.3,100.9 382.6,99.6 383.9,101.2 385.2,99.7 386.5,102.5 387.8,100.9 389.1,102.0 390.0,101.3 391.7,102.5 393.0,101.0 394.3,102.1 395.6,99.2 396.9,100.7 398.2,96.3 400.0,99.4 400.8,96.7 402.1,98.4 403.4,96.6 404.7,98.5 406.0,95.4 407.5,96.3 408.6,94.3 409.9,94.1 411.2,91.2 412.5,93.9 413.8,88.3 415.1,88.2 416.0,84.4 417.7,87.7 419.0,80.7 420.0,83.9 421.6,79.9 422.9,82.4 424.0,75.8 425.5,76.2 426.8,69.9 427.5,73.0 428.1,69.2 429.4,73.6 431.0,67.8 432.0,72.4 433.3,70.0 435.0,73.3 435.9,71.7 437.5,81.7 438.5,83.7 440.0,91.9 441.1,92.7 442.5,99.1 443.7,98.7 445.0,102.0 446.0,101.3 447.6,103.2 448.9,102.1 450.5,104.4" fill="none" stroke="#111" stroke-width="1.30" stroke-linejoin="round"/>
<polyline points="341.0,60.8 342.3,68.0 344.0,70.2 344.9,73.7 346.2,71.6 347.5,79.4 348.8,74.4 349.4,76.2 349.9,81.0 350.4,74.8 351.0,71.9 352.7,72.9 354.0,69.1 355.0,69.8 356.6,65.5 357.9,66.4 359.0,63.5 360.5,68.8 361.8,64.9 362.5,70.1 363.1,69.0 364.4,73.5 366.0,72.7 367.0,74.2 368.3,73.9 369.6,75.8 371.0,72.3 372.2,78.8 373.5,77.3 374.8,80.0 376.0,78.5 377.4,81.7 378.7,80.8 380.0,83.5 381.0,81.5 382.6,86.0 383.9,86.4 385.2,90.6 386.0,88.3 387.8,92.7 389.0,88.0 390.4,94.1 391.0,93.9 391.7,95.4 393.0,94.7 394.3,97.5 395.0,93.9 395.6,97.7 396.9,97.3 397.5,98.8 398.2,96.9 399.5,100.1 400.8,98.6 402.5,101.1 403.4,100.6 404.7,102.1 406.0,100.8 407.3,103.9 408.6,101.9 409.9,103.3 411.2,101.4 412.5,103.8 413.8,101.1 415.1,102.3 416.4,100.8 417.7,102.4 419.0,101.0 420.0,102.9 421.6,101.0 422.9,102.8 424.2,101.9 425.5,104.1 426.8,102.1 428.1,103.7 429.4,102.1 430.7,103.4 432.0,102.4 433.3,104.4 434.6,103.1 435.9,104.0 437.2,102.6 438.5,104.0 439.8,102.2 441.1,103.4 442.4,101.4 443.7,102.9 445.0,102.7 446.3,103.5 447.6,101.9 448.9,102.9 450.5,102.1" fill="none" stroke="#111" stroke-width="1.25" stroke-linejoin="round"/>
<line x1="396.50" y1="58.75" x2="396.50" y2="106.30" stroke="#222" stroke-width="1" stroke-dasharray="1.6,1.4"/>
<rect x="341.00" y="58.75" width="110.20" height="47.55" fill="none" stroke="#222" stroke-width="1.30"/>
<text x="334.60" y="67.75" font-family="Liberation Sans" font-size="12.00" font-weight="bold" text-anchor="end" fill="#000" letter-spacing="-0.15">Ly-6C</text>
<text x="407.80" y="72.25" font-family="Liberation Sans" font-size="12.00" font-weight="bold" text-anchor="middle" fill="#000" >86</text>
<text x="408.50" y="83.15" font-family="Liberation Sans" font-size="11.00" font-weight="normal" text-anchor="middle" fill="#000" stroke="#000" stroke-width="0.45">(7)</text>
<polygon points="340.5,164.5 340.5,161.8 341.8,163.0 343.1,160.6 344.4,161.6 345.7,161.0 347.0,162.6 348.3,161.6 349.6,162.5 350.9,161.3 352.2,163.7 353.5,161.4 354.8,164.5 356.1,161.4 357.5,162.4 358.7,160.8 360.0,161.4 361.3,160.5 362.6,162.5 363.9,160.8 365.2,163.3 366.5,160.4 367.5,162.4 369.1,158.3 370.4,161.5 371.7,158.0 373.0,158.8 374.3,155.9 375.0,158.2 375.6,156.1 376.9,157.7 378.2,155.5 380.0,157.6 380.8,154.9 382.1,154.6 383.4,151.7 385.0,152.5 386.0,147.4 387.3,148.3 389.0,140.3 389.9,142.5 391.2,136.8 392.5,140.0 393.8,135.7 395.1,134.7 396.0,129.7 397.7,136.9 399.0,138.9 400.3,131.1 401.0,123.8 401.6,125.2 402.9,120.1 404.0,123.3 406.0,124.6 406.8,128.5 408.1,123.4 409.0,125.6 411.0,130.0 412.0,130.7 413.3,128.6 415.0,133.1 415.9,132.8 417.5,144.2 418.5,144.8 420.0,155.1 421.1,152.8 422.5,158.0 423.7,157.2 425.0,160.9 426.3,157.6 427.5,159.6 428.9,158.6 430.2,160.5 431.5,159.8 432.5,161.3 434.1,159.7 435.4,162.4 436.7,161.3 438.0,163.2 439.3,163.1 440.0,164.5 440.6,163.0 441.9,164.4 443.2,161.2 444.5,163.7 445.8,161.8 447.1,163.8 448.4,163.3 449.7,164.5 450.5,163.2 450.5,164.5" fill="#d0d0d0" stroke="none"/>
<polyline points="340.5,161.8 341.8,163.0 343.1,160.6 344.4,161.6 345.7,161.0 347.0,162.6 348.3,161.6 349.6,162.5 350.9,161.3 352.2,163.7 353.5,161.4 354.8,164.5 356.1,161.4 357.5,162.4 358.7,160.8 360.0,161.4 361.3,160.5 362.6,162.5 363.9,160.8 365.2,163.3 366.5,160.4 367.5,162.4 369.1,158.3 370.4,161.5 371.7,158.0 373.0,158.8 374.3,155.9 375.0,158.2 375.6,156.1 376.9,157.7 378.2,155.5 380.0,157.6 380.8,154.9 382.1,154.6 383.4,151.7 385.0,152.5 386.0,147.4 387.3,148.3 389.0,140.3 389.9,142.5 391.2,136.8 392.5,140.0 393.8,135.7 395.1,134.7 396.0,129.7 397.7,136.9 399.0,138.9 400.3,131.1 401.0,123.8 401.6,125.2 402.9,120.1 404.0,123.3 406.0,124.6 406.8,128.5 408.1,123.4 409.0,125.6 411.0,130.0 412.0,130.7 413.3,128.6 415.0,133.1 415.9,132.8 417.5,144.2 418.5,144.8 420.0,155.1 421.1,152.8 422.5,158.0 423.7,157.2 425.0,160.9 426.3,157.6 427.5,159.6 428.9,158.6 430.2,160.5 431.5,159.8 432.5,161.3 434.1,159.7 435.4,162.4 436.7,161.3 438.0,163.2 439.3,163.1 440.0,164.5 440.6,163.0 441.9,164.4 443.2,161.2 444.5,163.7 445.8,161.8 447.1,163.8 448.4,163.3 449.7,164.5 450.5,163.2" fill="none" stroke="#111" stroke-width="1.30" stroke-linejoin="round"/>
<polyline points="340.5,116.5 341.8,122.5 342.5,122.8 343.1,127.7 344.4,124.5 345.0,128.3 345.7,125.9 347.0,125.4 348.3,122.2 349.0,126.2 349.6,122.2 350.9,122.9 352.5,119.2 353.5,122.5 354.8,120.7 356.0,125.1 357.4,124.3 358.7,125.9 360.0,124.4 361.3,130.0 362.6,126.7 364.0,133.8 365.2,134.9 366.5,139.6 367.5,139.6 369.1,146.3 370.4,147.2 371.0,149.7 371.7,149.3 373.0,152.0 374.3,150.7 376.0,155.4 376.9,152.5 378.2,155.4 379.5,153.9 381.0,158.5 382.1,156.3 383.4,160.3 385.0,158.5 386.0,161.3 387.3,159.1 388.6,160.4 389.9,159.0 391.2,162.7 392.5,160.8 393.8,161.7 395.1,159.8 396.4,161.7 397.7,160.6 399.0,161.6 400.3,161.4 401.6,162.8 402.9,161.9 404.2,163.2 405.0,161.4 406.8,163.5 408.1,162.5 409.4,163.3 410.7,161.1 412.0,163.1 413.3,162.8 414.6,164.0 415.9,161.9 417.2,164.2 418.5,162.8 419.8,163.4 421.1,161.7 422.4,163.0 423.7,162.3 425.0,163.5 426.3,162.1 427.6,163.4 428.9,161.6 430.2,163.1 431.5,162.9 432.8,164.0 434.1,162.9 435.4,163.1 436.7,160.7 438.0,163.3 439.3,162.1 440.6,163.9 441.9,163.2 443.2,163.7 444.5,162.8 445.8,164.4 447.1,163.6 448.4,164.1 449.7,162.9 450.5,164.5" fill="none" stroke="#111" stroke-width="1.25" stroke-linejoin="round"/>
<line x1="396.50" y1="116.90" x2="396.50" y2="165.00" stroke="#222" stroke-width="1" stroke-dasharray="1.6,1.4"/>
<rect x="340.00" y="116.90" width="111.20" height="48.10" fill="none" stroke="#222" stroke-width="1.30"/>
<text x="334.60" y="126.70" font-family="Liberation Sans" font-size="12.00" font-weight="bold" text-anchor="end" fill="#000" letter-spacing="-0.15">Ly-6G</text>
<text x="438.80" y="130.40" font-family="Liberation Sans" font-size="12.00" font-weight="bold" text-anchor="middle" fill="#000" >73</text>
<text x="438.50" y="141.30" font-family="Liberation Sans" font-size="11.00" font-weight="normal" text-anchor="middle" fill="#000" stroke="#000" stroke-width="0.45">(2)</text>
<polygon points="340.5,222.9 340.5,186.2 341.5,199.4 343.1,198.2 344.0,205.0 346.0,191.4 347.0,198.9 348.3,195.3 349.0,197.8 349.6,192.5 351.0,191.0 352.2,186.7 354.0,188.1 354.8,185.5 356.0,187.7 357.4,183.9 359.0,185.8 360.0,179.1 361.0,178.9 362.5,186.8 363.9,192.3 365.0,189.7 366.5,198.1 367.5,197.6 369.1,201.2 370.4,199.7 371.0,203.9 371.7,202.0 373.0,207.3 374.0,207.6 376.0,210.5 376.9,208.5 378.2,211.2 379.0,204.8 381.0,211.1 382.1,208.9 383.4,212.2 384.0,212.4 384.7,214.5 386.0,213.1 387.5,218.6 388.6,217.6 389.9,218.5 391.2,217.5 392.5,219.1 393.8,217.4 395.0,219.6 396.4,218.3 397.7,220.7 399.0,219.4 400.3,220.2 401.6,218.7 402.9,220.8 404.2,218.5 405.5,221.2 406.8,219.0 408.1,220.5 409.4,220.0 410.7,221.3 412.0,220.0 413.3,220.5 414.6,219.8 415.9,220.6 417.2,219.0 418.5,221.0 420.0,220.2 421.1,221.9 422.4,220.4 423.7,221.7 425.0,220.1 426.3,221.7 427.6,219.1 428.9,221.3 430.2,218.8 431.5,220.8 432.8,219.9 434.1,222.0 435.4,219.6 436.7,221.2 438.0,219.9 439.3,221.1 440.6,219.6 441.9,222.1 443.2,220.8 444.5,221.8 445.8,220.4 447.1,221.5 448.4,220.2 449.7,222.0 450.5,220.0 450.5,222.9" fill="#d0d0d0" stroke="none"/>
<polyline points="340.5,186.2 341.5,199.4 343.1,198.2 344.0,205.0 346.0,191.4 347.0,198.9 348.3,195.3 349.0,197.8 349.6,192.5 351.0,191.0 352.2,186.7 354.0,188.1 354.8,185.5 356.0,187.7 357.4,183.9 359.0,185.8 360.0,179.1 361.0,178.9 362.5,186.8 363.9,192.3 365.0,189.7 366.5,198.1 367.5,197.6 369.1,201.2 370.4,199.7 371.0,203.9 371.7,202.0 373.0,207.3 374.0,207.6 376.0,210.5 376.9,208.5 378.2,211.2 379.0,204.8 381.0,211.1 382.1,208.9 383.4,212.2 384.0,212.4 384.7,214.5 386.0,213.1 387.5,218.6 388.6,217.6 389.9,218.5 391.2,217.5 392.5,219.1 393.8,217.4 395.0,219.6 396.4,218.3 397.7,220.7 399.0,219.4 400.3,220.2 401.6,218.7 402.9,220.8 404.2,218.5 405.5,221.2 406.8,219.0 408.1,220.5 409.4,220.0 410.7,221.3 412.0,220.0 413.3,220.5 414.6,219.8 415.9,220.6 417.2,219.0 418.5,221.0 420.0,220.2 421.1,221.9 422.4,220.4 423.7,221.7 425.0,220.1 426.3,221.7 427.6,219.1 428.9,221.3 430.2,218.8 431.5,220.8 432.8,219.9 434.1,222.0 435.4,219.6 436.7,221.2 438.0,219.9 439.3,221.1 440.6,219.6 441.9,222.1 443.2,220.8 444.5,221.8 445.8,220.4 447.1,221.5 448.4,220.2 449.7,222.0 450.5,220.0" fill="none" stroke="#111" stroke-width="1.30" stroke-linejoin="round"/>
<polyline points="340.5,219.2 341.8,219.8 343.1,219.0 344.4,220.0 345.7,217.8 347.0,218.6 348.3,217.2 350.0,217.8 350.9,215.9 352.2,217.1 353.5,215.8 354.8,216.7 356.1,214.0 357.5,217.4 358.7,213.1 360.0,214.8 361.3,210.2 362.6,213.9 363.9,211.9 365.0,214.5 366.5,212.0 367.8,212.7 369.1,209.3 370.0,209.3 371.7,205.3 373.0,206.4 374.0,200.5 375.6,200.4 376.9,195.7 377.5,196.1 378.2,193.3 379.5,194.0 381.0,189.2 382.1,188.8 383.4,181.7 385.0,184.3 386.0,183.2 387.5,186.6 388.6,185.4 390.0,190.2 391.2,189.5 392.5,194.6 394.0,196.2 395.1,198.2 396.4,197.0 397.5,201.5 399.0,198.6 400.3,203.0 401.0,200.5 401.6,205.9 402.9,204.4 404.2,208.8 405.0,206.5 406.8,211.2 408.1,211.4 409.0,214.1 411.0,215.6 412.0,219.5 413.3,217.5 415.0,219.3 415.9,218.6 417.2,219.7 418.5,219.5 419.8,220.0 421.1,218.9 422.4,220.2 423.7,217.9 425.0,220.7 426.3,218.7 427.6,220.2 428.9,219.9 430.2,222.2 431.5,220.3 432.8,222.2 434.1,220.8 435.0,221.7 436.7,219.2 438.0,219.5 439.3,217.0 440.0,218.8 440.6,218.2 441.9,220.9 443.0,219.3 444.5,222.7 445.8,220.8 447.1,221.5 448.4,220.0 449.7,220.6 450.5,219.4" fill="none" stroke="#111" stroke-width="1.25" stroke-linejoin="round"/>
<line x1="396.50" y1="175.60" x2="396.50" y2="223.40" stroke="#222" stroke-width="1" stroke-dasharray="1.6,1.4"/>
<rect x="339.80" y="175.60" width="111.40" height="47.80" fill="none" stroke="#222" stroke-width="1.30"/>
<text x="332.80" y="185.40" font-family="Liberation Sans" font-size="12.00" font-weight="bold" text-anchor="end" fill="#000" letter-spacing="-0.15">CD40</text>
<text x="438.00" y="189.10" font-family="Liberation Sans" font-size="12.00" font-weight="bold" text-anchor="middle" fill="#000" >2</text>
<text x="437.50" y="200.00" font-family="Liberation Sans" font-size="11.00" font-weight="normal" text-anchor="middle" fill="#000" stroke="#000" stroke-width="0.45">(23)</text>
<polygon points="340.5,280.8 340.5,247.1 341.5,259.6 343.1,253.0 344.4,258.6 345.0,254.1 345.7,257.7 347.5,245.7 348.3,251.8 349.6,248.0 351.0,252.0 352.2,246.6 354.0,248.2 354.8,244.2 356.0,246.0 357.4,244.4 359.0,248.0 360.0,245.0 361.0,246.8 362.6,243.7 364.0,250.5 365.2,248.0 366.0,256.1 367.8,252.7 369.1,259.1 370.0,257.7 371.7,262.0 373.0,262.4 374.0,266.2 375.6,264.3 376.9,267.8 377.5,265.1 378.2,267.9 379.5,267.3 381.0,270.6 382.1,269.9 383.4,273.9 384.0,272.5 384.7,277.1 386.0,274.7 387.5,277.4 388.6,276.4 389.9,278.3 391.2,277.3 392.5,279.3 393.8,277.7 395.0,279.8 396.4,278.8 397.7,280.2 399.0,277.4 400.3,280.5 401.6,280.2 402.9,280.3 404.2,279.1 405.5,279.9 406.8,279.6 408.1,280.8 409.4,279.0 410.7,280.7 412.0,278.4 413.3,280.3 414.6,278.3 415.9,280.7 417.2,278.3 418.5,280.8 419.8,279.9 421.1,280.8 422.4,279.4 423.7,280.8 425.0,279.3 426.3,280.1 427.6,279.0 428.9,280.1 430.2,280.2 431.5,280.8 432.8,279.9 434.1,280.2 435.4,280.2 436.7,280.3 438.0,280.3 439.3,280.3 440.6,280.3 441.9,280.3 443.2,280.4 444.5,280.4 445.8,280.4 447.1,280.4 448.4,280.5 449.7,280.5 450.5,280.5 450.5,280.8" fill="#d0d0d0" stroke="none"/>
<polyline points="340.5,247.1 341.5,259.6 343.1,253.0 344.4,258.6 345.0,254.1 345.7,257.7 347.5,245.7 348.3,251.8 349.6,248.0 351.0,252.0 352.2,246.6 354.0,248.2 354.8,244.2 356.0,246.0 357.4,244.4 359.0,248.0 360.0,245.0 361.0,246.8 362.6,243.7 364.0,250.5 365.2,248.0 366.0,256.1 367.8,252.7 369.1,259.1 370.0,257.7 371.7,262.0 373.0,262.4 374.0,266.2 375.6,264.3 376.9,267.8 377.5,265.1 378.2,267.9 379.5,267.3 381.0,270.6 382.1,269.9 383.4,273.9 384.0,272.5 384.7,277.1 386.0,274.7 387.5,277.4 388.6,276.4 389.9,278.3 391.2,277.3 392.5,279.3 393.8,277.7 395.0,279.8 396.4,278.8 397.7,280.2 399.0,277.4 400.3,280.5 401.6,280.2 402.9,280.3 404.2,279.1 405.5,279.9 406.8,279.6 408.1,280.8 409.4,279.0 410.7,280.7 412.0,278.4 413.3,280.3 414.6,278.3 415.9,280.7 417.2,278.3 418.5,280.8 419.8,279.9 421.1,280.8 422.4,279.4 423.7,280.8 425.0,279.3 426.3,280.1 427.6,279.0 428.9,280.1 430.2,280.2 431.5,280.8 432.8,279.9 434.1,280.2 435.4,280.2 436.7,280.3 438.0,280.3 439.3,280.3 440.6,280.3 441.9,280.3 443.2,280.4 444.5,280.4 445.8,280.4 447.1,280.4 448.4,280.5 449.7,280.5 450.5,280.5" fill="none" stroke="#111" stroke-width="1.30" stroke-linejoin="round"/>
<polyline points="340.5,280.5 341.8,280.4 343.1,280.3 344.4,280.8 345.7,280.2 347.0,280.8 348.3,280.1 349.6,280.8 350.9,280.3 352.2,280.5 353.5,279.7 354.8,280.8 356.1,279.2 357.4,280.1 358.7,278.4 360.0,278.8 361.3,277.6 362.6,278.9 363.9,277.2 365.2,278.6 366.5,277.5 367.8,279.3 369.1,276.6 370.0,279.3 371.7,274.0 373.0,275.9 374.3,271.7 375.0,273.6 375.6,271.1 376.9,272.5 378.2,269.5 380.0,269.1 380.8,263.9 382.1,263.9 383.4,258.4 384.0,258.5 384.7,254.6 386.0,254.0 387.3,250.0 389.0,250.0 389.9,245.4 391.2,246.3 392.5,240.5 393.8,243.9 395.0,242.3 396.4,248.3 397.7,245.2 399.0,250.1 400.3,247.4 401.6,251.8 402.5,247.6 404.2,254.4 406.0,251.7 406.8,255.4 408.1,254.3 409.4,260.8 410.0,259.3 410.7,262.6 412.0,263.5 413.3,266.5 415.0,266.0 415.9,267.0 417.2,265.0 418.5,266.2 419.8,265.7 421.0,267.3 422.4,266.2 423.7,270.8 425.0,269.0 426.0,272.3 427.6,271.2 428.9,276.0 430.2,275.4 431.0,277.9 432.8,278.0 434.1,278.8 435.4,277.1 436.7,279.4 437.5,278.4 439.3,279.9 440.6,279.0 441.9,280.3 442.5,280.5 443.2,280.5 444.5,280.6 445.8,280.7 447.1,280.8 448.4,280.8 449.7,280.8 450.5,280.8" fill="none" stroke="#111" stroke-width="1.25" stroke-linejoin="round"/>
<line x1="396.50" y1="233.40" x2="396.50" y2="281.30" stroke="#222" stroke-width="1" stroke-dasharray="1.6,1.4"/>
<rect x="339.70" y="233.40" width="111.50" height="47.90" fill="none" stroke="#222" stroke-width="1.30"/>
<text x="332.80" y="243.20" font-family="Liberation Sans" font-size="12.00" font-weight="bold" text-anchor="end" fill="#000" letter-spacing="-0.15">CD86</text>
<text x="438.90" y="246.90" font-family="Liberation Sans" font-size="12.00" font-weight="bold" text-anchor="middle" fill="#000" >3</text>
<text x="438.10" y="257.80" font-family="Liberation Sans" font-size="11.00" font-weight="normal" text-anchor="middle" fill="#000" stroke="#000" stroke-width="0.45">(59)</text>
<polygon points="340.5,339.5 340.5,303.0 341.5,327.4 343.0,325.8 344.4,328.7 345.0,328.2 345.7,327.7 347.5,318.6 348.3,322.8 350.0,318.7 350.9,321.4 352.5,314.3 353.5,317.4 355.0,312.5 356.1,316.9 357.4,315.0 359.0,317.4 360.0,314.4 361.0,314.9 362.5,315.5 363.9,313.4 365.0,305.0 366.5,311.2 367.5,304.6 369.1,309.5 370.0,303.9 372.0,306.6 373.0,300.5 374.3,307.7 375.0,304.3 375.6,306.9 376.9,303.8 378.2,310.2 379.0,307.5 381.0,310.6 382.5,312.4 383.4,316.9 385.0,318.2 386.0,325.6 387.5,328.2 388.6,333.4 390.0,332.6 391.2,334.2 392.5,332.9 394.0,337.0 395.1,335.7 396.4,337.9 397.5,336.3 399.0,337.8 400.3,337.0 401.6,338.7 402.9,336.0 404.2,338.3 405.5,337.6 406.8,338.4 408.1,336.1 409.4,338.2 410.7,337.1 412.0,338.2 413.3,336.3 414.6,339.3 415.9,335.8 417.2,338.4 418.5,336.4 420.0,338.7 421.1,339.1 422.0,339.5 423.7,339.5 425.0,339.5 426.3,339.5 427.6,339.5 428.9,339.5 430.2,339.5 431.5,339.5 432.8,339.5 434.1,339.5 435.4,339.5 436.7,339.5 438.0,339.5 439.3,339.5 440.6,339.5 441.9,339.5 443.2,339.5 444.5,339.5 445.8,339.5 447.1,339.5 448.4,339.5 449.7,339.5 450.5,339.5 450.5,339.5" fill="#d0d0d0" stroke="none"/>
<polyline points="340.5,303.0 341.5,327.4 343.0,325.8 344.4,328.7 345.0,328.2 345.7,327.7 347.5,318.6 348.3,322.8 350.0,318.7 350.9,321.4 352.5,314.3 353.5,317.4 355.0,312.5 356.1,316.9 357.4,315.0 359.0,317.4 360.0,314.4 361.0,314.9 362.5,315.5 363.9,313.4 365.0,305.0 366.5,311.2 367.5,304.6 369.1,309.5 370.0,303.9 372.0,306.6 373.0,300.5 374.3,307.7 375.0,304.3 375.6,306.9 376.9,303.8 378.2,310.2 379.0,307.5 381.0,310.6 382.5,312.4 383.4,316.9 385.0,318.2 386.0,325.6 387.5,328.2 388.6,333.4 390.0,332.6 391.2,334.2 392.5,332.9 394.0,337.0 395.1,335.7 396.4,337.9 397.5,336.3 399.0,337.8 400.3,337.0 401.6,338.7 402.9,336.0 404.2,338.3 405.5,337.6 406.8,338.4 408.1,336.1 409.4,338.2 410.7,337.1 412.0,338.2 413.3,336.3 414.6,339.3 415.9,335.8 417.2,338.4 418.5,336.4 420.0,338.7 421.1,339.1 422.0,339.5 423.7,339.5 425.0,339.5 426.3,339.5 427.6,339.5 428.9,339.5 430.2,339.5 431.5,339.5 432.8,339.5 434.1,339.5 435.4,339.5 436.7,339.5 438.0,339.5 439.3,339.5 440.6,339.5 441.9,339.5 443.2,339.5 444.5,339.5 445.8,339.5 447.1,339.5 448.4,339.5 449.7,339.5 450.5,339.5" fill="none" stroke="#111" stroke-width="1.30" stroke-linejoin="round"/>
<line x1="396.50" y1="291.90" x2="396.50" y2="340.00" stroke="#222" stroke-width="1" stroke-dasharray="1.6,1.4"/>
<rect x="340.80" y="291.90" width="110.40" height="48.10" fill="none" stroke="#222" stroke-width="1.30"/>
<text x="335.60" y="301.70" font-family="Liberation Sans" font-size="12.00" font-weight="bold" text-anchor="end" fill="#000" letter-spacing="-0.15">IL-3R<tspan font-family="Liberation Serif" font-style="italic" font-size="14" dx="1.2" stroke="#000" stroke-width="0.5">α</tspan></text>
<text x="440.60" y="305.40" font-family="Liberation Sans" font-size="12.00" font-weight="bold" text-anchor="middle" fill="#000" >1</text>
<polygon points="340.5,397.7 340.5,349.7 342.0,364.8 343.1,362.7 344.0,374.2 346.0,354.9 347.0,359.3 348.3,361.4 349.0,369.1 349.6,363.0 350.5,357.9 352.5,366.0 353.5,366.2 355.0,358.3 356.1,361.6 357.0,355.1 359.0,366.0 360.0,365.5 361.0,369.6 362.6,370.2 364.0,375.6 365.2,375.1 366.0,382.6 367.8,378.2 369.0,380.9 370.4,380.8 371.0,388.0 371.7,384.1 373.0,384.9 374.3,383.3 375.0,385.7 375.6,384.5 376.9,389.4 378.2,387.4 379.0,393.2 380.8,388.8 382.1,392.8 383.4,388.3 385.0,390.0 386.0,388.1 387.3,393.4 389.0,393.0 389.9,394.1 391.2,392.1 392.5,395.9 393.8,394.4 395.0,396.9 396.4,395.2 397.7,396.9 399.0,394.2 400.3,396.1 401.6,394.5 402.9,395.6 404.2,394.2 405.0,395.2 406.8,394.7 408.1,397.0 409.4,395.5 410.7,396.1 412.0,395.6 413.3,396.6 415.0,395.3 415.9,397.7 417.2,396.4 418.5,397.2 419.8,396.0 421.1,397.0 422.4,396.3 423.7,397.6 425.0,395.5 426.3,397.1 427.6,395.9 428.9,397.5 430.2,395.8 431.5,397.7 432.8,397.2 434.1,397.2 435.0,397.3 436.7,397.3 438.0,397.3 439.3,397.3 440.6,397.3 441.9,397.3 443.2,397.3 444.5,397.3 445.8,397.3 447.1,397.3 448.4,397.3 449.7,397.3 450.5,397.3 450.5,397.7" fill="#d0d0d0" stroke="none"/>
<polyline points="340.5,349.7 342.0,364.8 343.1,362.7 344.0,374.2 346.0,354.9 347.0,359.3 348.3,361.4 349.0,369.1 349.6,363.0 350.5,357.9 352.5,366.0 353.5,366.2 355.0,358.3 356.1,361.6 357.0,355.1 359.0,366.0 360.0,365.5 361.0,369.6 362.6,370.2 364.0,375.6 365.2,375.1 366.0,382.6 367.8,378.2 369.0,380.9 370.4,380.8 371.0,388.0 371.7,384.1 373.0,384.9 374.3,383.3 375.0,385.7 375.6,384.5 376.9,389.4 378.2,387.4 379.0,393.2 380.8,388.8 382.1,392.8 383.4,388.3 385.0,390.0 386.0,388.1 387.3,393.4 389.0,393.0 389.9,394.1 391.2,392.1 392.5,395.9 393.8,394.4 395.0,396.9 396.4,395.2 397.7,396.9 399.0,394.2 400.3,396.1 401.6,394.5 402.9,395.6 404.2,394.2 405.0,395.2 406.8,394.7 408.1,397.0 409.4,395.5 410.7,396.1 412.0,395.6 413.3,396.6 415.0,395.3 415.9,397.7 417.2,396.4 418.5,397.2 419.8,396.0 421.1,397.0 422.4,396.3 423.7,397.6 425.0,395.5 426.3,397.1 427.6,395.9 428.9,397.5 430.2,395.8 431.5,397.7 432.8,397.2 434.1,397.2 435.0,397.3 436.7,397.3 438.0,397.3 439.3,397.3 440.6,397.3 441.9,397.3 443.2,397.3 444.5,397.3 445.8,397.3 447.1,397.3 448.4,397.3 449.7,397.3 450.5,397.3" fill="none" stroke="#111" stroke-width="1.30" stroke-linejoin="round"/>
<line x1="396.50" y1="349.90" x2="396.50" y2="398.20" stroke="#222" stroke-width="1" stroke-dasharray="1.6,1.4"/>
<rect x="340.20" y="349.90" width="111.00" height="48.30" fill="none" stroke="#222" stroke-width="1.30"/>
<text x="332.80" y="359.70" font-family="Liberation Sans" font-size="12.00" font-weight="bold" text-anchor="end" fill="#000" letter-spacing="-0.15">CD19</text>
<text x="441.70" y="363.40" font-family="Liberation Sans" font-size="12.00" font-weight="bold" text-anchor="middle" fill="#000" >2</text>
<polygon points="339.5,456.2 339.5,414.3 340.8,419.4 342.5,420.6 343.4,422.8 345.0,416.3 346.0,427.3 347.5,423.6 348.6,426.6 350.0,419.7 351.2,419.7 352.5,415.2 353.8,417.0 355.0,411.6 356.4,417.6 357.5,417.1 359.0,421.0 360.0,416.5 361.6,423.3 362.5,421.6 364.2,426.1 366.0,424.5 366.8,431.5 368.1,426.2 369.4,433.1 370.0,427.5 370.7,433.7 372.0,430.7 373.3,434.3 374.0,431.9 374.6,438.7 376.0,437.4 377.2,439.9 379.0,434.7 379.8,440.0 381.0,439.2 382.4,443.1 384.0,444.2 385.0,449.7 386.0,450.0 387.6,452.4 388.9,450.3 390.0,453.6 391.5,451.9 392.8,455.2 394.1,452.8 395.0,455.2 396.7,453.5 398.0,455.2 399.3,454.2 400.0,455.6 400.6,452.8 401.9,455.7 403.2,452.5 404.5,454.7 405.8,453.8 407.1,455.3 408.4,454.1 409.7,455.1 411.0,454.1 412.3,454.9 413.6,454.1 415.0,456.2 416.2,454.1 418.0,456.2 418.8,456.2 420.1,456.2 421.4,456.2 422.7,456.2 424.0,456.2 425.3,456.2 426.6,456.2 427.9,456.2 429.2,456.2 430.5,456.2 431.8,456.2 433.1,456.2 434.4,456.2 435.7,456.2 437.0,456.2 438.3,456.2 439.6,456.2 440.9,456.2 442.2,456.2 443.5,456.2 444.8,456.2 446.1,456.2 447.4,456.2 448.7,456.2 450.5,456.2 450.5,456.2" fill="#d0d0d0" stroke="none"/>
<polyline points="339.5,414.3 340.8,419.4 342.5,420.6 343.4,422.8 345.0,416.3 346.0,427.3 347.5,423.6 348.6,426.6 350.0,419.7 351.2,419.7 352.5,415.2 353.8,417.0 355.0,411.6 356.4,417.6 357.5,417.1 359.0,421.0 360.0,416.5 361.6,423.3 362.5,421.6 364.2,426.1 366.0,424.5 366.8,431.5 368.1,426.2 369.4,433.1 370.0,427.5 370.7,433.7 372.0,430.7 373.3,434.3 374.0,431.9 374.6,438.7 376.0,437.4 377.2,439.9 379.0,434.7 379.8,440.0 381.0,439.2 382.4,443.1 384.0,444.2 385.0,449.7 386.0,450.0 387.6,452.4 388.9,450.3 390.0,453.6 391.5,451.9 392.8,455.2 394.1,452.8 395.0,455.2 396.7,453.5 398.0,455.2 399.3,454.2 400.0,455.6 400.6,452.8 401.9,455.7 403.2,452.5 404.5,454.7 405.8,453.8 407.1,455.3 408.4,454.1 409.7,455.1 411.0,454.1 412.3,454.9 413.6,454.1 415.0,456.2 416.2,454.1 418.0,456.2 418.8,456.2 420.1,456.2 421.4,456.2 422.7,456.2 424.0,456.2 425.3,456.2 426.6,456.2 427.9,456.2 429.2,456.2 430.5,456.2 431.8,456.2 433.1,456.2 434.4,456.2 435.7,456.2 437.0,456.2 438.3,456.2 439.6,456.2 440.9,456.2 442.2,456.2 443.5,456.2 444.8,456.2 446.1,456.2 447.4,456.2 448.7,456.2 450.5,456.2" fill="none" stroke="#111" stroke-width="1.30" stroke-linejoin="round"/>
<line x1="396.50" y1="408.60" x2="396.50" y2="456.70" stroke="#222" stroke-width="1" stroke-dasharray="1.6,1.4"/>
<rect x="338.80" y="408.60" width="112.40" height="48.10" fill="none" stroke="#222" stroke-width="1.30"/>
<text x="333.10" y="417.10" font-family="Liberation Sans" font-size="12.00" font-weight="bold" text-anchor="end" fill="#000" letter-spacing="-0.15">control</text>
<text x="443.00" y="423.40" font-family="Liberation Sans" font-size="12.00" font-weight="bold" text-anchor="middle" fill="#000" >1</text>
<text x="0.00" y="506.00" font-family="Liberation Sans" font-size="24.00" font-weight="bold" text-anchor="start" fill="#000" >B</text>
<rect x="93.75" y="486.80" width="55.75" height="18.00" fill="none" stroke="#222" stroke-width="1.20"/>
<text x="121.03" y="500.30" font-family="Liberation Sans" font-size="12.60" font-weight="bold" text-anchor="middle" fill="#000" >thymus</text>
<rect x="202.00" y="486.80" width="53.00" height="18.00" fill="none" stroke="#222" stroke-width="1.20"/>
<text x="227.90" y="500.30" font-family="Liberation Sans" font-size="12.60" font-weight="bold" text-anchor="middle" fill="#000" >spleen</text>
<rect x="303.75" y="486.80" width="77.50" height="18.00" fill="none" stroke="#222" stroke-width="1.20"/>
<text x="341.90" y="500.30" font-family="Liberation Sans" font-size="12.60" font-weight="bold" text-anchor="middle" fill="#000" >lymph node</text>
<rect x="416.20" y="486.80" width="91.10" height="18.00" fill="none" stroke="#222" stroke-width="1.20"/>
<text x="461.15" y="500.30" font-family="Liberation Sans" font-size="12.60" font-weight="bold" text-anchor="middle" fill="#000" >bone marrow</text>
<polygon points="65.9,586.0 65.9,563.0 66.5,580.3 67.2,580.1 68.0,583.3 69.8,581.8 70.6,584.2 72.4,582.9 73.7,583.5 75.0,582.4 76.3,583.9 76.9,582.1 77.6,582.8 78.9,581.6 80.2,582.6 81.5,580.7 83.3,581.5 84.1,579.7 85.4,580.4 86.7,578.9 87.5,579.8 89.3,577.3 90.6,577.9 91.7,575.4 93.2,575.6 94.5,572.1 96.0,572.4 97.1,569.2 98.4,570.8 100.2,565.9 101.0,567.7 102.3,563.8 103.4,563.9 104.9,557.6 106.5,558.7 107.5,554.8 109.0,555.6 110.1,554.7 111.8,558.5 112.7,557.8 114.0,560.7 114.6,557.6 115.3,558.8 116.0,556.8 116.6,560.7 118.2,561.0 119.2,565.2 120.5,560.8 121.3,561.6 123.1,557.8 124.5,558.5 125.7,555.3 127.0,558.5 127.7,555.9 128.3,557.6 129.6,553.1 130.9,556.1 132.2,556.3 134.0,560.3 134.8,559.8 136.1,563.1 137.2,562.6 138.7,568.8 140.4,568.0 141.3,572.8 142.6,571.4 143.6,575.9 145.2,574.6 146.7,578.8 147.8,576.9 149.1,580.7 150.4,580.0 151.0,581.5 151.7,580.2 153.0,584.5 154.3,584.2 155.2,585.8 156.9,585.5 158.2,585.5 159.5,585.6 160.8,585.7 162.1,585.7 163.4,585.8 164.7,585.9 166.0,585.9 167.5,586.0 167.5,586.0" fill="#c0c0c0" stroke="none"/>
<polyline points="65.9,563.0 66.5,580.3 67.2,580.1 68.0,583.3 69.8,581.8 70.6,584.2 72.4,582.9 73.7,583.5 75.0,582.4 76.3,583.9 76.9,582.1 77.6,582.8 78.9,581.6 80.2,582.6 81.5,580.7 83.3,581.5 84.1,579.7 85.4,580.4 86.7,578.9 87.5,579.8 89.3,577.3 90.6,577.9 91.7,575.4 93.2,575.6 94.5,572.1 96.0,572.4 97.1,569.2 98.4,570.8 100.2,565.9 101.0,567.7 102.3,563.8 103.4,563.9 104.9,557.6 106.5,558.7 107.5,554.8 109.0,555.6 110.1,554.7 111.8,558.5 112.7,557.8 114.0,560.7 114.6,557.6 115.3,558.8 116.0,556.8 116.6,560.7 118.2,561.0 119.2,565.2 120.5,560.8 121.3,561.6 123.1,557.8 124.5,558.5 125.7,555.3 127.0,558.5 127.7,555.9 128.3,557.6 129.6,553.1 130.9,556.1 132.2,556.3 134.0,560.3 134.8,559.8 136.1,563.1 137.2,562.6 138.7,568.8 140.4,568.0 141.3,572.8 142.6,571.4 143.6,575.9 145.2,574.6 146.7,578.8 147.8,576.9 149.1,580.7 150.4,580.0 151.0,581.5 151.7,580.2 153.0,584.5 154.3,584.2 155.2,585.8 156.9,585.5 158.2,585.5 159.5,585.6 160.8,585.7 162.1,585.7 163.4,585.8 164.7,585.9 166.0,585.9 167.5,586.0" fill="none" stroke="#111" stroke-width="1.45" stroke-linejoin="round"/>
<line x1="99.50" y1="542.50" x2="99.50" y2="586.50" stroke="#222" stroke-width="1" stroke-dasharray="1.6,1.4"/>
<line x1="117.00" y1="542.50" x2="117.00" y2="586.50" stroke="#222" stroke-width="1" stroke-dasharray="1.6,1.4"/>
<rect x="65.50" y="542.50" width="102.75" height="44.00" fill="none" stroke="#222" stroke-width="1.20"/>
<line x1="66.50" y1="586.50" x2="66.50" y2="589.50" stroke="#333" stroke-width="0.9"/>
<line x1="74.08" y1="586.50" x2="74.08" y2="588.30" stroke="#777" stroke-width="0.6"/>
<line x1="78.52" y1="586.50" x2="78.52" y2="588.30" stroke="#777" stroke-width="0.6"/>
<line x1="81.66" y1="586.50" x2="81.66" y2="588.30" stroke="#777" stroke-width="0.6"/>
<line x1="84.11" y1="586.50" x2="84.11" y2="588.30" stroke="#777" stroke-width="0.6"/>
<line x1="86.10" y1="586.50" x2="86.10" y2="588.30" stroke="#777" stroke-width="0.6"/>
<line x1="87.79" y1="586.50" x2="87.79" y2="588.30" stroke="#777" stroke-width="0.6"/>
<line x1="89.25" y1="586.50" x2="89.25" y2="588.30" stroke="#777" stroke-width="0.6"/>
<line x1="90.53" y1="586.50" x2="90.53" y2="588.30" stroke="#777" stroke-width="0.6"/>
<line x1="91.69" y1="586.50" x2="91.69" y2="589.50" stroke="#333" stroke-width="0.9"/>
<line x1="99.27" y1="586.50" x2="99.27" y2="588.30" stroke="#777" stroke-width="0.6"/>
<line x1="103.70" y1="586.50" x2="103.70" y2="588.30" stroke="#777" stroke-width="0.6"/>
<line x1="106.85" y1="586.50" x2="106.85" y2="588.30" stroke="#777" stroke-width="0.6"/>
<line x1="109.29" y1="586.50" x2="109.29" y2="588.30" stroke="#777" stroke-width="0.6"/>
<line x1="111.29" y1="586.50" x2="111.29" y2="588.30" stroke="#777" stroke-width="0.6"/>
<line x1="112.97" y1="586.50" x2="112.97" y2="588.30" stroke="#777" stroke-width="0.6"/>
<line x1="114.43" y1="586.50" x2="114.43" y2="588.30" stroke="#777" stroke-width="0.6"/>
<line x1="115.72" y1="586.50" x2="115.72" y2="588.30" stroke="#777" stroke-width="0.6"/>
<line x1="116.88" y1="586.50" x2="116.88" y2="589.50" stroke="#333" stroke-width="0.9"/>
<line x1="124.46" y1="586.50" x2="124.46" y2="588.30" stroke="#777" stroke-width="0.6"/>
<line x1="128.89" y1="586.50" x2="128.89" y2="588.30" stroke="#777" stroke-width="0.6"/>
<line x1="132.04" y1="586.50" x2="132.04" y2="588.30" stroke="#777" stroke-width="0.6"/>
<line x1="134.48" y1="586.50" x2="134.48" y2="588.30" stroke="#777" stroke-width="0.6"/>
<line x1="136.47" y1="586.50" x2="136.47" y2="588.30" stroke="#777" stroke-width="0.6"/>
<line x1="138.16" y1="586.50" x2="138.16" y2="588.30" stroke="#777" stroke-width="0.6"/>
<line x1="139.62" y1="586.50" x2="139.62" y2="588.30" stroke="#777" stroke-width="0.6"/>
<line x1="140.91" y1="586.50" x2="140.91" y2="588.30" stroke="#777" stroke-width="0.6"/>
<line x1="142.06" y1="586.50" x2="142.06" y2="589.50" stroke="#333" stroke-width="0.9"/>
<line x1="149.64" y1="586.50" x2="149.64" y2="588.30" stroke="#777" stroke-width="0.6"/>
<line x1="154.08" y1="586.50" x2="154.08" y2="588.30" stroke="#777" stroke-width="0.6"/>
<line x1="157.23" y1="586.50" x2="157.23" y2="588.30" stroke="#777" stroke-width="0.6"/>
<line x1="159.67" y1="586.50" x2="159.67" y2="588.30" stroke="#777" stroke-width="0.6"/>
<line x1="161.66" y1="586.50" x2="161.66" y2="588.30" stroke="#777" stroke-width="0.6"/>
<line x1="163.35" y1="586.50" x2="163.35" y2="588.30" stroke="#777" stroke-width="0.6"/>
<line x1="164.81" y1="586.50" x2="164.81" y2="588.30" stroke="#777" stroke-width="0.6"/>
<line x1="166.10" y1="586.50" x2="166.10" y2="588.30" stroke="#777" stroke-width="0.6"/>
<line x1="167.25" y1="586.50" x2="167.25" y2="589.50" stroke="#333" stroke-width="0.9"/>
<line x1="65.80" y1="536.50" x2="99.10" y2="536.50" stroke="#2a2a2a" stroke-width="1.15"/>
<path d="M65.50,536.50 L69.50,534.40 L68.20,536.50 L69.50,538.60 Z" fill="#1a1a1a" stroke="#1a1a1a" stroke-width="0.7" stroke-linejoin="miter"/>
<path d="M99.40,536.50 L95.40,534.40 L96.70,536.50 L95.40,538.60 Z" fill="#1a1a1a" stroke="#1a1a1a" stroke-width="0.7" stroke-linejoin="miter"/>
<line x1="99.90" y1="536.50" x2="116.60" y2="536.50" stroke="#2a2a2a" stroke-width="1.15"/>
<path d="M99.60,536.50 L103.60,534.40 L102.30,536.50 L103.60,538.60 Z" fill="#1a1a1a" stroke="#1a1a1a" stroke-width="0.7" stroke-linejoin="miter"/>
<path d="M116.90,536.50 L112.90,534.40 L114.20,536.50 L112.90,538.60 Z" fill="#1a1a1a" stroke="#1a1a1a" stroke-width="0.7" stroke-linejoin="miter"/>
<line x1="117.40" y1="536.50" x2="167.95" y2="536.50" stroke="#2a2a2a" stroke-width="1.15"/>
<path d="M117.10,536.50 L121.10,534.40 L119.80,536.50 L121.10,538.60 Z" fill="#1a1a1a" stroke="#1a1a1a" stroke-width="0.7" stroke-linejoin="miter"/>
<path d="M168.25,536.50 L164.25,534.40 L165.55,536.50 L164.25,538.60 Z" fill="#1a1a1a" stroke="#1a1a1a" stroke-width="0.7" stroke-linejoin="miter"/>
<text x="81.60" y="532.50" font-family="Liberation Sans" font-size="10.60" font-weight="normal" text-anchor="middle" fill="#000" stroke="#000" stroke-width="0.25">16</text>
<text x="108.10" y="532.50" font-family="Liberation Sans" font-size="10.60" font-weight="normal" text-anchor="middle" fill="#000" stroke="#000" stroke-width="0.25">33</text>
<text x="140.50" y="532.50" font-family="Liberation Sans" font-size="10.60" font-weight="normal" text-anchor="middle" fill="#000" stroke="#000" stroke-width="0.25">51</text>
<polygon points="182.0,586.0 182.0,541.4 183.8,554.1 184.6,552.1 186.0,560.1 187.2,557.4 189.0,561.4 189.8,556.8 191.0,556.6 192.4,551.8 194.0,551.8 195.0,552.5 196.0,557.7 197.6,552.9 199.0,557.1 200.2,550.8 201.0,551.7 202.5,556.1 204.1,560.5 205.4,558.5 206.0,562.9 206.7,561.0 208.0,564.2 209.3,562.7 210.0,566.9 210.6,563.5 211.9,564.4 213.2,560.6 214.0,561.6 215.8,559.2 217.5,560.2 218.4,558.0 219.7,560.2 221.0,557.6 222.3,558.2 223.6,555.1 225.0,558.5 226.2,553.1 227.5,555.8 229.0,555.3 230.1,556.5 231.4,553.5 232.5,555.0 234.0,553.5 235.3,554.6 236.0,552.3 236.6,555.8 237.9,552.4 239.2,553.1 240.0,548.1 241.8,553.6 242.5,551.1 243.1,557.2 244.4,557.0 245.0,561.5 245.7,559.3 247.5,566.4 248.3,567.9 249.5,576.1 250.9,577.6 252.5,581.9 253.5,580.7 254.8,581.7 256.1,581.7 257.5,584.1 258.7,583.4 260.0,585.3 261.3,584.7 262.5,585.5 263.9,585.5 265.2,585.6 266.5,585.6 267.8,585.6 269.1,585.7 270.4,585.7 271.7,585.7 273.0,585.8 274.3,585.8 275.6,585.8 276.9,585.9 278.2,585.9 279.5,585.9 280.8,585.9 282.1,586.0 283.0,586.0 283.0,586.0" fill="#c0c0c0" stroke="none"/>
<polyline points="182.0,541.4 183.8,554.1 184.6,552.1 186.0,560.1 187.2,557.4 189.0,561.4 189.8,556.8 191.0,556.6 192.4,551.8 194.0,551.8 195.0,552.5 196.0,557.7 197.6,552.9 199.0,557.1 200.2,550.8 201.0,551.7 202.5,556.1 204.1,560.5 205.4,558.5 206.0,562.9 206.7,561.0 208.0,564.2 209.3,562.7 210.0,566.9 210.6,563.5 211.9,564.4 213.2,560.6 214.0,561.6 215.8,559.2 217.5,560.2 218.4,558.0 219.7,560.2 221.0,557.6 222.3,558.2 223.6,555.1 225.0,558.5 226.2,553.1 227.5,555.8 229.0,555.3 230.1,556.5 231.4,553.5 232.5,555.0 234.0,553.5 235.3,554.6 236.0,552.3 236.6,555.8 237.9,552.4 239.2,553.1 240.0,548.1 241.8,553.6 242.5,551.1 243.1,557.2 244.4,557.0 245.0,561.5 245.7,559.3 247.5,566.4 248.3,567.9 249.5,576.1 250.9,577.6 252.5,581.9 253.5,580.7 254.8,581.7 256.1,581.7 257.5,584.1 258.7,583.4 260.0,585.3 261.3,584.7 262.5,585.5 263.9,585.5 265.2,585.6 266.5,585.6 267.8,585.6 269.1,585.7 270.4,585.7 271.7,585.7 273.0,585.8 274.3,585.8 275.6,585.8 276.9,585.9 278.2,585.9 279.5,585.9 280.8,585.9 282.1,586.0 283.0,586.0" fill="none" stroke="#111" stroke-width="1.45" stroke-linejoin="round"/>
<line x1="214.50" y1="542.50" x2="214.50" y2="586.50" stroke="#222" stroke-width="1" stroke-dasharray="1.6,1.4"/>
<line x1="232.00" y1="542.50" x2="232.00" y2="586.50" stroke="#222" stroke-width="1" stroke-dasharray="1.6,1.4"/>
<rect x="181.25" y="542.50" width="102.50" height="44.00" fill="none" stroke="#222" stroke-width="1.20"/>
<line x1="182.25" y1="586.50" x2="182.25" y2="589.50" stroke="#333" stroke-width="0.9"/>
<line x1="189.81" y1="586.50" x2="189.81" y2="588.30" stroke="#777" stroke-width="0.6"/>
<line x1="194.24" y1="586.50" x2="194.24" y2="588.30" stroke="#777" stroke-width="0.6"/>
<line x1="197.38" y1="586.50" x2="197.38" y2="588.30" stroke="#777" stroke-width="0.6"/>
<line x1="199.81" y1="586.50" x2="199.81" y2="588.30" stroke="#777" stroke-width="0.6"/>
<line x1="201.80" y1="586.50" x2="201.80" y2="588.30" stroke="#777" stroke-width="0.6"/>
<line x1="203.48" y1="586.50" x2="203.48" y2="588.30" stroke="#777" stroke-width="0.6"/>
<line x1="204.94" y1="586.50" x2="204.94" y2="588.30" stroke="#777" stroke-width="0.6"/>
<line x1="206.23" y1="586.50" x2="206.23" y2="588.30" stroke="#777" stroke-width="0.6"/>
<line x1="207.38" y1="586.50" x2="207.38" y2="589.50" stroke="#333" stroke-width="0.9"/>
<line x1="214.94" y1="586.50" x2="214.94" y2="588.30" stroke="#777" stroke-width="0.6"/>
<line x1="219.36" y1="586.50" x2="219.36" y2="588.30" stroke="#777" stroke-width="0.6"/>
<line x1="222.50" y1="586.50" x2="222.50" y2="588.30" stroke="#777" stroke-width="0.6"/>
<line x1="224.94" y1="586.50" x2="224.94" y2="588.30" stroke="#777" stroke-width="0.6"/>
<line x1="226.93" y1="586.50" x2="226.93" y2="588.30" stroke="#777" stroke-width="0.6"/>
<line x1="228.61" y1="586.50" x2="228.61" y2="588.30" stroke="#777" stroke-width="0.6"/>
<line x1="230.07" y1="586.50" x2="230.07" y2="588.30" stroke="#777" stroke-width="0.6"/>
<line x1="231.35" y1="586.50" x2="231.35" y2="588.30" stroke="#777" stroke-width="0.6"/>
<line x1="232.50" y1="586.50" x2="232.50" y2="589.50" stroke="#333" stroke-width="0.9"/>
<line x1="240.06" y1="586.50" x2="240.06" y2="588.30" stroke="#777" stroke-width="0.6"/>
<line x1="244.49" y1="586.50" x2="244.49" y2="588.30" stroke="#777" stroke-width="0.6"/>
<line x1="247.63" y1="586.50" x2="247.63" y2="588.30" stroke="#777" stroke-width="0.6"/>
<line x1="250.06" y1="586.50" x2="250.06" y2="588.30" stroke="#777" stroke-width="0.6"/>
<line x1="252.05" y1="586.50" x2="252.05" y2="588.30" stroke="#777" stroke-width="0.6"/>
<line x1="253.73" y1="586.50" x2="253.73" y2="588.30" stroke="#777" stroke-width="0.6"/>
<line x1="255.19" y1="586.50" x2="255.19" y2="588.30" stroke="#777" stroke-width="0.6"/>
<line x1="256.48" y1="586.50" x2="256.48" y2="588.30" stroke="#777" stroke-width="0.6"/>
<line x1="257.62" y1="586.50" x2="257.62" y2="589.50" stroke="#333" stroke-width="0.9"/>
<line x1="265.19" y1="586.50" x2="265.19" y2="588.30" stroke="#777" stroke-width="0.6"/>
<line x1="269.61" y1="586.50" x2="269.61" y2="588.30" stroke="#777" stroke-width="0.6"/>
<line x1="272.75" y1="586.50" x2="272.75" y2="588.30" stroke="#777" stroke-width="0.6"/>
<line x1="275.19" y1="586.50" x2="275.19" y2="588.30" stroke="#777" stroke-width="0.6"/>
<line x1="277.18" y1="586.50" x2="277.18" y2="588.30" stroke="#777" stroke-width="0.6"/>
<line x1="278.86" y1="586.50" x2="278.86" y2="588.30" stroke="#777" stroke-width="0.6"/>
<line x1="280.32" y1="586.50" x2="280.32" y2="588.30" stroke="#777" stroke-width="0.6"/>
<line x1="281.60" y1="586.50" x2="281.60" y2="588.30" stroke="#777" stroke-width="0.6"/>
<line x1="282.75" y1="586.50" x2="282.75" y2="589.50" stroke="#333" stroke-width="0.9"/>
<line x1="181.55" y1="536.50" x2="214.10" y2="536.50" stroke="#2a2a2a" stroke-width="1.15"/>
<path d="M181.25,536.50 L185.25,534.40 L183.95,536.50 L185.25,538.60 Z" fill="#1a1a1a" stroke="#1a1a1a" stroke-width="0.7" stroke-linejoin="miter"/>
<path d="M214.40,536.50 L210.40,534.40 L211.70,536.50 L210.40,538.60 Z" fill="#1a1a1a" stroke="#1a1a1a" stroke-width="0.7" stroke-linejoin="miter"/>
<line x1="214.90" y1="536.50" x2="231.60" y2="536.50" stroke="#2a2a2a" stroke-width="1.15"/>
<path d="M214.60,536.50 L218.60,534.40 L217.30,536.50 L218.60,538.60 Z" fill="#1a1a1a" stroke="#1a1a1a" stroke-width="0.7" stroke-linejoin="miter"/>
<path d="M231.90,536.50 L227.90,534.40 L229.20,536.50 L227.90,538.60 Z" fill="#1a1a1a" stroke="#1a1a1a" stroke-width="0.7" stroke-linejoin="miter"/>
<line x1="232.40" y1="536.50" x2="283.45" y2="536.50" stroke="#2a2a2a" stroke-width="1.15"/>
<path d="M232.10,536.50 L236.10,534.40 L234.80,536.50 L236.10,538.60 Z" fill="#1a1a1a" stroke="#1a1a1a" stroke-width="0.7" stroke-linejoin="miter"/>
<path d="M283.75,536.50 L279.75,534.40 L281.05,536.50 L279.75,538.60 Z" fill="#1a1a1a" stroke="#1a1a1a" stroke-width="0.7" stroke-linejoin="miter"/>
<text x="196.90" y="532.50" font-family="Liberation Sans" font-size="10.60" font-weight="normal" text-anchor="middle" fill="#000" stroke="#000" stroke-width="0.25">53</text>
<text x="222.80" y="532.50" font-family="Liberation Sans" font-size="10.60" font-weight="normal" text-anchor="middle" fill="#000" stroke="#000" stroke-width="0.25">24</text>
<text x="255.70" y="532.50" font-family="Liberation Sans" font-size="10.60" font-weight="normal" text-anchor="middle" fill="#000" stroke="#000" stroke-width="0.25">23</text>
<polygon points="296.9,586.0 296.9,559.6 297.5,578.8 298.2,577.1 300.0,579.6 300.8,576.7 302.1,577.4 303.4,575.2 305.0,577.2 306.0,574.8 307.3,576.3 308.6,574.4 310.0,576.1 311.2,573.7 312.5,576.3 313.8,573.0 315.0,574.4 316.4,571.9 317.7,573.5 319.0,572.3 320.0,575.9 321.6,573.1 322.9,573.2 324.2,570.9 325.0,572.3 326.8,568.0 327.5,569.7 328.1,565.7 329.4,567.2 330.0,564.5 330.7,567.2 332.5,566.8 333.3,566.5 335.0,563.0 335.9,563.8 337.2,559.5 339.0,561.5 339.8,558.2 341.1,561.7 342.5,560.8 343.7,562.1 345.5,559.1 346.3,562.0 347.6,558.8 349.0,562.4 350.2,558.3 351.5,559.6 352.5,555.7 354.1,557.9 355.4,551.4 356.0,553.0 356.7,550.0 358.0,551.1 359.3,546.6 360.0,548.4 360.6,546.5 361.9,550.6 362.5,549.4 363.2,554.2 365.0,559.7 365.8,565.8 367.5,569.6 368.4,573.8 370.0,575.7 371.0,578.1 372.3,578.0 374.0,582.1 374.9,580.5 376.2,583.2 377.5,582.5 378.8,584.6 380.0,583.5 381.4,584.8 382.7,583.5 384.0,585.1 385.3,583.7 386.6,584.9 387.9,583.6 389.2,586.0 390.0,584.8 391.8,585.7 393.1,584.7 394.4,585.5 395.7,585.6 397.0,585.8 398.3,585.9 399.0,586.0 399.0,586.0" fill="#c0c0c0" stroke="none"/>
<polyline points="296.9,559.6 297.5,578.8 298.2,577.1 300.0,579.6 300.8,576.7 302.1,577.4 303.4,575.2 305.0,577.2 306.0,574.8 307.3,576.3 308.6,574.4 310.0,576.1 311.2,573.7 312.5,576.3 313.8,573.0 315.0,574.4 316.4,571.9 317.7,573.5 319.0,572.3 320.0,575.9 321.6,573.1 322.9,573.2 324.2,570.9 325.0,572.3 326.8,568.0 327.5,569.7 328.1,565.7 329.4,567.2 330.0,564.5 330.7,567.2 332.5,566.8 333.3,566.5 335.0,563.0 335.9,563.8 337.2,559.5 339.0,561.5 339.8,558.2 341.1,561.7 342.5,560.8 343.7,562.1 345.5,559.1 346.3,562.0 347.6,558.8 349.0,562.4 350.2,558.3 351.5,559.6 352.5,555.7 354.1,557.9 355.4,551.4 356.0,553.0 356.7,550.0 358.0,551.1 359.3,546.6 360.0,548.4 360.6,546.5 361.9,550.6 362.5,549.4 363.2,554.2 365.0,559.7 365.8,565.8 367.5,569.6 368.4,573.8 370.0,575.7 371.0,578.1 372.3,578.0 374.0,582.1 374.9,580.5 376.2,583.2 377.5,582.5 378.8,584.6 380.0,583.5 381.4,584.8 382.7,583.5 384.0,585.1 385.3,583.7 386.6,584.9 387.9,583.6 389.2,586.0 390.0,584.8 391.8,585.7 393.1,584.7 394.4,585.5 395.7,585.6 397.0,585.8 398.3,585.9 399.0,586.0" fill="none" stroke="#111" stroke-width="1.45" stroke-linejoin="round"/>
<line x1="330.50" y1="542.50" x2="330.50" y2="586.50" stroke="#222" stroke-width="1" stroke-dasharray="1.6,1.4"/>
<line x1="348.75" y1="542.50" x2="348.75" y2="586.50" stroke="#222" stroke-width="1" stroke-dasharray="1.6,1.4"/>
<rect x="296.25" y="542.50" width="103.25" height="44.00" fill="none" stroke="#222" stroke-width="1.20"/>
<line x1="297.25" y1="586.50" x2="297.25" y2="589.50" stroke="#333" stroke-width="0.9"/>
<line x1="304.87" y1="586.50" x2="304.87" y2="588.30" stroke="#777" stroke-width="0.6"/>
<line x1="309.33" y1="586.50" x2="309.33" y2="588.30" stroke="#777" stroke-width="0.6"/>
<line x1="312.49" y1="586.50" x2="312.49" y2="588.30" stroke="#777" stroke-width="0.6"/>
<line x1="314.94" y1="586.50" x2="314.94" y2="588.30" stroke="#777" stroke-width="0.6"/>
<line x1="316.95" y1="586.50" x2="316.95" y2="588.30" stroke="#777" stroke-width="0.6"/>
<line x1="318.64" y1="586.50" x2="318.64" y2="588.30" stroke="#777" stroke-width="0.6"/>
<line x1="320.11" y1="586.50" x2="320.11" y2="588.30" stroke="#777" stroke-width="0.6"/>
<line x1="321.40" y1="586.50" x2="321.40" y2="588.30" stroke="#777" stroke-width="0.6"/>
<line x1="322.56" y1="586.50" x2="322.56" y2="589.50" stroke="#333" stroke-width="0.9"/>
<line x1="330.18" y1="586.50" x2="330.18" y2="588.30" stroke="#777" stroke-width="0.6"/>
<line x1="334.64" y1="586.50" x2="334.64" y2="588.30" stroke="#777" stroke-width="0.6"/>
<line x1="337.80" y1="586.50" x2="337.80" y2="588.30" stroke="#777" stroke-width="0.6"/>
<line x1="340.26" y1="586.50" x2="340.26" y2="588.30" stroke="#777" stroke-width="0.6"/>
<line x1="342.26" y1="586.50" x2="342.26" y2="588.30" stroke="#777" stroke-width="0.6"/>
<line x1="343.95" y1="586.50" x2="343.95" y2="588.30" stroke="#777" stroke-width="0.6"/>
<line x1="345.42" y1="586.50" x2="345.42" y2="588.30" stroke="#777" stroke-width="0.6"/>
<line x1="346.72" y1="586.50" x2="346.72" y2="588.30" stroke="#777" stroke-width="0.6"/>
<line x1="347.88" y1="586.50" x2="347.88" y2="589.50" stroke="#333" stroke-width="0.9"/>
<line x1="355.49" y1="586.50" x2="355.49" y2="588.30" stroke="#777" stroke-width="0.6"/>
<line x1="359.95" y1="586.50" x2="359.95" y2="588.30" stroke="#777" stroke-width="0.6"/>
<line x1="363.11" y1="586.50" x2="363.11" y2="588.30" stroke="#777" stroke-width="0.6"/>
<line x1="365.57" y1="586.50" x2="365.57" y2="588.30" stroke="#777" stroke-width="0.6"/>
<line x1="367.57" y1="586.50" x2="367.57" y2="588.30" stroke="#777" stroke-width="0.6"/>
<line x1="369.27" y1="586.50" x2="369.27" y2="588.30" stroke="#777" stroke-width="0.6"/>
<line x1="370.73" y1="586.50" x2="370.73" y2="588.30" stroke="#777" stroke-width="0.6"/>
<line x1="372.03" y1="586.50" x2="372.03" y2="588.30" stroke="#777" stroke-width="0.6"/>
<line x1="373.19" y1="586.50" x2="373.19" y2="589.50" stroke="#333" stroke-width="0.9"/>
<line x1="380.81" y1="586.50" x2="380.81" y2="588.30" stroke="#777" stroke-width="0.6"/>
<line x1="385.26" y1="586.50" x2="385.26" y2="588.30" stroke="#777" stroke-width="0.6"/>
<line x1="388.43" y1="586.50" x2="388.43" y2="588.30" stroke="#777" stroke-width="0.6"/>
<line x1="390.88" y1="586.50" x2="390.88" y2="588.30" stroke="#777" stroke-width="0.6"/>
<line x1="392.88" y1="586.50" x2="392.88" y2="588.30" stroke="#777" stroke-width="0.6"/>
<line x1="394.58" y1="586.50" x2="394.58" y2="588.30" stroke="#777" stroke-width="0.6"/>
<line x1="396.05" y1="586.50" x2="396.05" y2="588.30" stroke="#777" stroke-width="0.6"/>
<line x1="397.34" y1="586.50" x2="397.34" y2="588.30" stroke="#777" stroke-width="0.6"/>
<line x1="398.50" y1="586.50" x2="398.50" y2="589.50" stroke="#333" stroke-width="0.9"/>
<line x1="296.55" y1="536.50" x2="330.10" y2="536.50" stroke="#2a2a2a" stroke-width="1.15"/>
<path d="M296.25,536.50 L300.25,534.40 L298.95,536.50 L300.25,538.60 Z" fill="#1a1a1a" stroke="#1a1a1a" stroke-width="0.7" stroke-linejoin="miter"/>
<path d="M330.40,536.50 L326.40,534.40 L327.70,536.50 L326.40,538.60 Z" fill="#1a1a1a" stroke="#1a1a1a" stroke-width="0.7" stroke-linejoin="miter"/>
<line x1="330.90" y1="536.50" x2="348.35" y2="536.50" stroke="#2a2a2a" stroke-width="1.15"/>
<path d="M330.60,536.50 L334.60,534.40 L333.30,536.50 L334.60,538.60 Z" fill="#1a1a1a" stroke="#1a1a1a" stroke-width="0.7" stroke-linejoin="miter"/>
<path d="M348.65,536.50 L344.65,534.40 L345.95,536.50 L344.65,538.60 Z" fill="#1a1a1a" stroke="#1a1a1a" stroke-width="0.7" stroke-linejoin="miter"/>
<line x1="349.15" y1="536.50" x2="399.20" y2="536.50" stroke="#2a2a2a" stroke-width="1.15"/>
<path d="M348.85,536.50 L352.85,534.40 L351.55,536.50 L352.85,538.60 Z" fill="#1a1a1a" stroke="#1a1a1a" stroke-width="0.7" stroke-linejoin="miter"/>
<path d="M399.50,536.50 L395.50,534.40 L396.80,536.50 L395.50,538.60 Z" fill="#1a1a1a" stroke="#1a1a1a" stroke-width="0.7" stroke-linejoin="miter"/>
<text x="312.75" y="532.50" font-family="Liberation Sans" font-size="10.60" font-weight="normal" text-anchor="middle" fill="#000" stroke="#000" stroke-width="0.25">27</text>
<text x="339.40" y="532.50" font-family="Liberation Sans" font-size="10.60" font-weight="normal" text-anchor="middle" fill="#000" stroke="#000" stroke-width="0.25">29</text>
<text x="372.10" y="532.50" font-family="Liberation Sans" font-size="10.60" font-weight="normal" text-anchor="middle" fill="#000" stroke="#000" stroke-width="0.25">44</text>
<polygon points="413.3,586.0 413.3,557.0 414.3,557.6 415.3,558.2 416.3,558.8 417.3,559.4 418.3,560.0 419.3,560.6 420.0,561.0 421.0,556.0 422.3,555.9 423.3,555.8 424.3,555.8 425.3,555.7 426.3,555.6 427.3,555.5 428.3,555.5 429.3,555.4 430.3,555.3 431.3,555.3 432.3,555.2 433.3,555.1 434.3,555.0 435.0,555.0 436.3,559.6 437.0,562.0 438.3,562.1 439.3,562.3 440.3,562.4 441.3,562.5 442.3,562.6 443.3,562.7 444.3,562.8 445.3,562.9 446.0,563.0 447.3,566.9 448.0,569.0 449.3,569.3 450.3,569.5 451.3,569.7 452.3,569.9 453.3,570.1 454.3,570.4 455.3,570.6 456.3,570.8 457.3,571.0 458.3,571.2 459.3,571.4 460.3,571.6 461.3,571.9 462.0,572.0 463.3,574.6 464.0,576.0 465.3,576.2 466.3,576.4 467.3,576.5 468.3,576.7 469.3,576.9 470.0,577.0 471.3,579.0 472.0,580.0 473.3,580.4 474.3,580.7 475.3,581.0 476.3,581.3 477.3,581.6 478.3,581.9 479.3,582.2 480.3,582.5 481.3,582.8 482.0,583.0 483.3,584.3 484.3,585.3 485.0,586.0 485.0,586.0" fill="#d0d0d0" stroke="none"/>
<polyline points="413.2,539.4 413.9,561.4 414.4,559.7 415.0,557.5 415.6,555.9 416.2,560.3 416.8,553.1 417.3,555.8 418.0,554.1 418.6,555.7 419.2,558.0 419.6,562.6 420.4,553.8 421.0,559.7 421.6,555.4 421.9,550.6 422.2,555.3 422.8,549.1 423.4,551.3 424.2,554.2 424.6,556.9 425.2,554.0 425.8,546.4 426.5,554.2 427.0,545.4 427.6,544.8 428.2,547.9 428.8,541.9 429.4,547.0 430.0,546.7 430.6,550.8 431.2,551.5 431.8,553.1 432.4,553.2 433.0,555.5 433.5,558.1 434.2,551.3 434.6,549.9 435.4,551.2 436.0,554.9 436.6,554.6 436.9,559.6 437.2,560.4 437.8,558.0 438.4,560.3 439.0,563.3 439.6,563.4 440.4,565.8 440.8,562.2 441.4,566.8 442.0,560.4 442.6,566.9 443.2,561.3 443.8,560.2 444.4,560.5 445.0,565.9 445.6,563.3 446.2,565.3 446.8,567.7 447.4,565.1 448.0,570.0 448.5,565.5 449.2,571.3 449.8,566.3 450.4,566.5 451.0,568.9 451.6,567.2 451.9,567.3 452.2,565.3 452.8,565.7 453.4,570.0 454.0,562.2 454.6,561.9 455.4,567.0 455.8,562.9 456.4,565.4 457.0,566.6 457.6,565.7 458.2,569.6 458.8,575.2 459.4,574.5 460.0,568.4 460.6,575.8 461.2,575.4 461.8,575.2 462.3,570.3 463.0,571.8 463.6,571.1 464.2,575.7 464.8,575.9 465.4,573.2 465.8,578.2 466.6,576.6 467.2,576.5 467.8,574.5 468.4,577.5 469.2,575.3 469.6,577.3 470.2,578.8 470.8,573.7 471.4,574.2 472.0,576.1 472.7,581.1 473.2,577.4 473.8,577.7 474.4,578.8 475.0,578.8 475.6,578.2 476.2,580.5 476.8,578.3 477.3,580.2 478.0,577.0 478.6,581.2 479.2,580.1 479.8,581.0 480.4,579.5 480.8,583.9 481.6,580.9 482.2,584.6 482.8,584.1 483.4,582.6 484.2,586.0 484.6,585.4 485.2,585.5 485.8,585.6 486.4,585.6 487.0,585.7 487.6,585.8 488.2,585.8 488.8,585.9 489.4,585.9 490.0,586.0 490.6,586.0 491.2,586.0 491.8,586.0 492.4,586.0 493.0,586.0 493.6,586.0 494.2,586.0 494.8,586.0 495.4,586.0 496.0,586.0 496.6,586.0 497.2,586.0 497.8,586.0 498.4,586.0 499.0,586.0 499.6,586.0 500.2,586.0 500.8,586.0 501.4,586.0 502.0,586.0 502.6,586.0 503.2,586.0 503.8,586.0 504.4,586.0 505.0,586.0 505.6,586.0 506.2,586.0 506.8,586.0 507.4,586.0 508.0,586.0 508.6,586.0 509.2,586.0 509.8,586.0 510.4,586.0 511.0,586.0 511.6,586.0 512.2,586.0 512.8,586.0 513.4,586.0 514.0,586.0 514.6,586.0 515.0,586.0" fill="none" stroke="#111" stroke-width="1.20" stroke-linejoin="round"/>
<line x1="446.80" y1="542.50" x2="446.80" y2="586.50" stroke="#222" stroke-width="1" stroke-dasharray="1.6,1.4"/>
<line x1="465.30" y1="542.50" x2="465.30" y2="586.50" stroke="#222" stroke-width="1" stroke-dasharray="1.6,1.4"/>
<rect x="412.70" y="542.50" width="102.70" height="44.00" fill="none" stroke="#222" stroke-width="1.20"/>
<line x1="413.70" y1="586.50" x2="413.70" y2="589.50" stroke="#333" stroke-width="0.9"/>
<line x1="421.28" y1="586.50" x2="421.28" y2="588.30" stroke="#777" stroke-width="0.6"/>
<line x1="425.71" y1="586.50" x2="425.71" y2="588.30" stroke="#777" stroke-width="0.6"/>
<line x1="428.86" y1="586.50" x2="428.86" y2="588.30" stroke="#777" stroke-width="0.6"/>
<line x1="431.30" y1="586.50" x2="431.30" y2="588.30" stroke="#777" stroke-width="0.6"/>
<line x1="433.29" y1="586.50" x2="433.29" y2="588.30" stroke="#777" stroke-width="0.6"/>
<line x1="434.98" y1="586.50" x2="434.98" y2="588.30" stroke="#777" stroke-width="0.6"/>
<line x1="436.44" y1="586.50" x2="436.44" y2="588.30" stroke="#777" stroke-width="0.6"/>
<line x1="437.72" y1="586.50" x2="437.72" y2="588.30" stroke="#777" stroke-width="0.6"/>
<line x1="438.88" y1="586.50" x2="438.88" y2="589.50" stroke="#333" stroke-width="0.9"/>
<line x1="446.45" y1="586.50" x2="446.45" y2="588.30" stroke="#777" stroke-width="0.6"/>
<line x1="450.89" y1="586.50" x2="450.89" y2="588.30" stroke="#777" stroke-width="0.6"/>
<line x1="454.03" y1="586.50" x2="454.03" y2="588.30" stroke="#777" stroke-width="0.6"/>
<line x1="456.47" y1="586.50" x2="456.47" y2="588.30" stroke="#777" stroke-width="0.6"/>
<line x1="458.46" y1="586.50" x2="458.46" y2="588.30" stroke="#777" stroke-width="0.6"/>
<line x1="460.15" y1="586.50" x2="460.15" y2="588.30" stroke="#777" stroke-width="0.6"/>
<line x1="461.61" y1="586.50" x2="461.61" y2="588.30" stroke="#777" stroke-width="0.6"/>
<line x1="462.90" y1="586.50" x2="462.90" y2="588.30" stroke="#777" stroke-width="0.6"/>
<line x1="464.05" y1="586.50" x2="464.05" y2="589.50" stroke="#333" stroke-width="0.9"/>
<line x1="471.63" y1="586.50" x2="471.63" y2="588.30" stroke="#777" stroke-width="0.6"/>
<line x1="476.06" y1="586.50" x2="476.06" y2="588.30" stroke="#777" stroke-width="0.6"/>
<line x1="479.21" y1="586.50" x2="479.21" y2="588.30" stroke="#777" stroke-width="0.6"/>
<line x1="481.65" y1="586.50" x2="481.65" y2="588.30" stroke="#777" stroke-width="0.6"/>
<line x1="483.64" y1="586.50" x2="483.64" y2="588.30" stroke="#777" stroke-width="0.6"/>
<line x1="485.33" y1="586.50" x2="485.33" y2="588.30" stroke="#777" stroke-width="0.6"/>
<line x1="486.79" y1="586.50" x2="486.79" y2="588.30" stroke="#777" stroke-width="0.6"/>
<line x1="488.07" y1="586.50" x2="488.07" y2="588.30" stroke="#777" stroke-width="0.6"/>
<line x1="489.22" y1="586.50" x2="489.22" y2="589.50" stroke="#333" stroke-width="0.9"/>
<line x1="496.80" y1="586.50" x2="496.80" y2="588.30" stroke="#777" stroke-width="0.6"/>
<line x1="501.24" y1="586.50" x2="501.24" y2="588.30" stroke="#777" stroke-width="0.6"/>
<line x1="504.38" y1="586.50" x2="504.38" y2="588.30" stroke="#777" stroke-width="0.6"/>
<line x1="506.82" y1="586.50" x2="506.82" y2="588.30" stroke="#777" stroke-width="0.6"/>
<line x1="508.81" y1="586.50" x2="508.81" y2="588.30" stroke="#777" stroke-width="0.6"/>
<line x1="510.50" y1="586.50" x2="510.50" y2="588.30" stroke="#777" stroke-width="0.6"/>
<line x1="511.96" y1="586.50" x2="511.96" y2="588.30" stroke="#777" stroke-width="0.6"/>
<line x1="513.25" y1="586.50" x2="513.25" y2="588.30" stroke="#777" stroke-width="0.6"/>
<line x1="514.40" y1="586.50" x2="514.40" y2="589.50" stroke="#333" stroke-width="0.9"/>
<line x1="413.00" y1="536.50" x2="446.40" y2="536.50" stroke="#2a2a2a" stroke-width="1.15"/>
<path d="M412.70,536.50 L416.70,534.40 L415.40,536.50 L416.70,538.60 Z" fill="#1a1a1a" stroke="#1a1a1a" stroke-width="0.7" stroke-linejoin="miter"/>
<path d="M446.70,536.50 L442.70,534.40 L444.00,536.50 L442.70,538.60 Z" fill="#1a1a1a" stroke="#1a1a1a" stroke-width="0.7" stroke-linejoin="miter"/>
<line x1="447.20" y1="536.50" x2="464.90" y2="536.50" stroke="#2a2a2a" stroke-width="1.15"/>
<path d="M446.90,536.50 L450.90,534.40 L449.60,536.50 L450.90,538.60 Z" fill="#1a1a1a" stroke="#1a1a1a" stroke-width="0.7" stroke-linejoin="miter"/>
<path d="M465.20,536.50 L461.20,534.40 L462.50,536.50 L461.20,538.60 Z" fill="#1a1a1a" stroke="#1a1a1a" stroke-width="0.7" stroke-linejoin="miter"/>
<line x1="465.70" y1="536.50" x2="515.10" y2="536.50" stroke="#2a2a2a" stroke-width="1.15"/>
<path d="M465.40,536.50 L469.40,534.40 L468.10,536.50 L469.40,538.60 Z" fill="#1a1a1a" stroke="#1a1a1a" stroke-width="0.7" stroke-linejoin="miter"/>
<path d="M515.40,536.50 L511.40,534.40 L512.70,536.50 L511.40,538.60 Z" fill="#1a1a1a" stroke="#1a1a1a" stroke-width="0.7" stroke-linejoin="miter"/>
<text x="428.25" y="532.50" font-family="Liberation Sans" font-size="10.60" font-weight="normal" text-anchor="middle" fill="#000" stroke="#000" stroke-width="0.25">71</text>
<text x="455.40" y="532.50" font-family="Liberation Sans" font-size="10.60" font-weight="normal" text-anchor="middle" fill="#000" stroke="#000" stroke-width="0.25">22</text>
<text x="488.00" y="532.50" font-family="Liberation Sans" font-size="10.60" font-weight="normal" text-anchor="middle" fill="#000" stroke="#000" stroke-width="0.25">7</text>
<polygon points="65.9,667.5 65.9,654.8 66.5,665.4 67.2,664.8 68.0,667.0 70.0,665.2 71.1,666.8 72.4,665.8 73.7,666.9 75.0,665.8 76.3,667.4 77.6,665.7 78.9,666.7 80.0,665.6 81.5,666.8 82.8,665.8 84.1,666.7 85.4,665.3 86.7,665.8 88.0,664.7 89.3,665.6 90.0,664.0 90.6,666.1 91.9,663.7 93.2,666.2 94.5,664.6 95.8,666.4 97.1,663.5 98.4,664.7 99.0,663.2 99.7,664.3 101.0,662.2 102.5,662.2 103.6,660.3 104.9,660.7 106.0,657.4 107.5,659.7 108.8,657.7 110.0,659.6 111.4,655.9 112.7,656.1 114.0,652.8 115.3,657.5 117.0,657.1 117.9,657.6 119.2,651.6 120.0,654.1 121.8,650.7 123.1,652.7 124.0,650.4 125.7,649.9 127.5,646.7 128.3,647.9 129.6,644.5 131.0,645.0 132.2,641.4 133.5,644.9 135.0,642.7 136.1,644.2 137.4,639.9 139.0,641.7 140.0,636.9 141.3,639.8 142.5,636.3 143.9,637.7 145.0,635.2 146.5,636.0 148.0,630.3 149.1,636.2 150.0,636.1 151.7,647.7 152.5,649.2 154.3,657.8 155.0,656.7 155.6,661.9 156.9,662.3 157.5,664.7 158.2,664.1 159.5,666.9 161.0,667.5 162.1,667.5 163.4,667.5 164.7,667.5 166.0,667.5 167.5,667.5 167.5,667.5" fill="#c0c0c0" stroke="none"/>
<polyline points="65.9,654.8 66.5,665.4 67.2,664.8 68.0,667.0 70.0,665.2 71.1,666.8 72.4,665.8 73.7,666.9 75.0,665.8 76.3,667.4 77.6,665.7 78.9,666.7 80.0,665.6 81.5,666.8 82.8,665.8 84.1,666.7 85.4,665.3 86.7,665.8 88.0,664.7 89.3,665.6 90.0,664.0 90.6,666.1 91.9,663.7 93.2,666.2 94.5,664.6 95.8,666.4 97.1,663.5 98.4,664.7 99.0,663.2 99.7,664.3 101.0,662.2 102.5,662.2 103.6,660.3 104.9,660.7 106.0,657.4 107.5,659.7 108.8,657.7 110.0,659.6 111.4,655.9 112.7,656.1 114.0,652.8 115.3,657.5 117.0,657.1 117.9,657.6 119.2,651.6 120.0,654.1 121.8,650.7 123.1,652.7 124.0,650.4 125.7,649.9 127.5,646.7 128.3,647.9 129.6,644.5 131.0,645.0 132.2,641.4 133.5,644.9 135.0,642.7 136.1,644.2 137.4,639.9 139.0,641.7 140.0,636.9 141.3,639.8 142.5,636.3 143.9,637.7 145.0,635.2 146.5,636.0 148.0,630.3 149.1,636.2 150.0,636.1 151.7,647.7 152.5,649.2 154.3,657.8 155.0,656.7 155.6,661.9 156.9,662.3 157.5,664.7 158.2,664.1 159.5,666.9 161.0,667.5 162.1,667.5 163.4,667.5 164.7,667.5 166.0,667.5 167.5,667.5" fill="none" stroke="#111" stroke-width="1.45" stroke-linejoin="round"/>
<line x1="99.50" y1="625.00" x2="99.50" y2="668.00" stroke="#222" stroke-width="1" stroke-dasharray="1.6,1.4"/>
<line x1="117.00" y1="625.00" x2="117.00" y2="668.00" stroke="#222" stroke-width="1" stroke-dasharray="1.6,1.4"/>
<rect x="65.50" y="625.00" width="102.75" height="43.00" fill="none" stroke="#222" stroke-width="1.20"/>
<line x1="66.50" y1="668.00" x2="66.50" y2="671.00" stroke="#333" stroke-width="0.9"/>
<line x1="74.08" y1="668.00" x2="74.08" y2="669.80" stroke="#777" stroke-width="0.6"/>
<line x1="78.52" y1="668.00" x2="78.52" y2="669.80" stroke="#777" stroke-width="0.6"/>
<line x1="81.66" y1="668.00" x2="81.66" y2="669.80" stroke="#777" stroke-width="0.6"/>
<line x1="84.11" y1="668.00" x2="84.11" y2="669.80" stroke="#777" stroke-width="0.6"/>
<line x1="86.10" y1="668.00" x2="86.10" y2="669.80" stroke="#777" stroke-width="0.6"/>
<line x1="87.79" y1="668.00" x2="87.79" y2="669.80" stroke="#777" stroke-width="0.6"/>
<line x1="89.25" y1="668.00" x2="89.25" y2="669.80" stroke="#777" stroke-width="0.6"/>
<line x1="90.53" y1="668.00" x2="90.53" y2="669.80" stroke="#777" stroke-width="0.6"/>
<line x1="91.69" y1="668.00" x2="91.69" y2="671.00" stroke="#333" stroke-width="0.9"/>
<line x1="99.27" y1="668.00" x2="99.27" y2="669.80" stroke="#777" stroke-width="0.6"/>
<line x1="103.70" y1="668.00" x2="103.70" y2="669.80" stroke="#777" stroke-width="0.6"/>
<line x1="106.85" y1="668.00" x2="106.85" y2="669.80" stroke="#777" stroke-width="0.6"/>
<line x1="109.29" y1="668.00" x2="109.29" y2="669.80" stroke="#777" stroke-width="0.6"/>
<line x1="111.29" y1="668.00" x2="111.29" y2="669.80" stroke="#777" stroke-width="0.6"/>
<line x1="112.97" y1="668.00" x2="112.97" y2="669.80" stroke="#777" stroke-width="0.6"/>
<line x1="114.43" y1="668.00" x2="114.43" y2="669.80" stroke="#777" stroke-width="0.6"/>
<line x1="115.72" y1="668.00" x2="115.72" y2="669.80" stroke="#777" stroke-width="0.6"/>
<line x1="116.88" y1="668.00" x2="116.88" y2="671.00" stroke="#333" stroke-width="0.9"/>
<line x1="124.46" y1="668.00" x2="124.46" y2="669.80" stroke="#777" stroke-width="0.6"/>
<line x1="128.89" y1="668.00" x2="128.89" y2="669.80" stroke="#777" stroke-width="0.6"/>
<line x1="132.04" y1="668.00" x2="132.04" y2="669.80" stroke="#777" stroke-width="0.6"/>
<line x1="134.48" y1="668.00" x2="134.48" y2="669.80" stroke="#777" stroke-width="0.6"/>
<line x1="136.47" y1="668.00" x2="136.47" y2="669.80" stroke="#777" stroke-width="0.6"/>
<line x1="138.16" y1="668.00" x2="138.16" y2="669.80" stroke="#777" stroke-width="0.6"/>
<line x1="139.62" y1="668.00" x2="139.62" y2="669.80" stroke="#777" stroke-width="0.6"/>
<line x1="140.91" y1="668.00" x2="140.91" y2="669.80" stroke="#777" stroke-width="0.6"/>
<line x1="142.06" y1="668.00" x2="142.06" y2="671.00" stroke="#333" stroke-width="0.9"/>
<line x1="149.64" y1="668.00" x2="149.64" y2="669.80" stroke="#777" stroke-width="0.6"/>
<line x1="154.08" y1="668.00" x2="154.08" y2="669.80" stroke="#777" stroke-width="0.6"/>
<line x1="157.23" y1="668.00" x2="157.23" y2="669.80" stroke="#777" stroke-width="0.6"/>
<line x1="159.67" y1="668.00" x2="159.67" y2="669.80" stroke="#777" stroke-width="0.6"/>
<line x1="161.66" y1="668.00" x2="161.66" y2="669.80" stroke="#777" stroke-width="0.6"/>
<line x1="163.35" y1="668.00" x2="163.35" y2="669.80" stroke="#777" stroke-width="0.6"/>
<line x1="164.81" y1="668.00" x2="164.81" y2="669.80" stroke="#777" stroke-width="0.6"/>
<line x1="166.10" y1="668.00" x2="166.10" y2="669.80" stroke="#777" stroke-width="0.6"/>
<line x1="167.25" y1="668.00" x2="167.25" y2="671.00" stroke="#333" stroke-width="0.9"/>
<line x1="65.80" y1="619.00" x2="99.10" y2="619.00" stroke="#2a2a2a" stroke-width="1.15"/>
<path d="M65.50,619.00 L69.50,616.90 L68.20,619.00 L69.50,621.10 Z" fill="#1a1a1a" stroke="#1a1a1a" stroke-width="0.7" stroke-linejoin="miter"/>
<path d="M99.40,619.00 L95.40,616.90 L96.70,619.00 L95.40,621.10 Z" fill="#1a1a1a" stroke="#1a1a1a" stroke-width="0.7" stroke-linejoin="miter"/>
<line x1="99.90" y1="619.00" x2="116.60" y2="619.00" stroke="#2a2a2a" stroke-width="1.15"/>
<path d="M99.60,619.00 L103.60,616.90 L102.30,619.00 L103.60,621.10 Z" fill="#1a1a1a" stroke="#1a1a1a" stroke-width="0.7" stroke-linejoin="miter"/>
<path d="M116.90,619.00 L112.90,616.90 L114.20,619.00 L112.90,621.10 Z" fill="#1a1a1a" stroke="#1a1a1a" stroke-width="0.7" stroke-linejoin="miter"/>
<line x1="117.40" y1="619.00" x2="167.95" y2="619.00" stroke="#2a2a2a" stroke-width="1.15"/>
<path d="M117.10,619.00 L121.10,616.90 L119.80,619.00 L121.10,621.10 Z" fill="#1a1a1a" stroke="#1a1a1a" stroke-width="0.7" stroke-linejoin="miter"/>
<path d="M168.25,619.00 L164.25,616.90 L165.55,619.00 L164.25,621.10 Z" fill="#1a1a1a" stroke="#1a1a1a" stroke-width="0.7" stroke-linejoin="miter"/>
<text x="83.50" y="615.00" font-family="Liberation Sans" font-size="10.60" font-weight="normal" text-anchor="middle" fill="#000" stroke="#000" stroke-width="0.25">7</text>
<text x="108.10" y="615.00" font-family="Liberation Sans" font-size="10.60" font-weight="normal" text-anchor="middle" fill="#000" stroke="#000" stroke-width="0.25">13</text>
<text x="141.25" y="615.00" font-family="Liberation Sans" font-size="10.60" font-weight="normal" text-anchor="middle" fill="#000" stroke="#000" stroke-width="0.25">80</text>
<polygon points="182.0,667.5 182.0,626.6 183.3,630.1 184.0,627.1 184.6,632.0 186.0,632.3 187.2,637.9 188.5,636.5 190.0,640.3 191.1,638.0 192.4,640.7 194.0,639.6 195.0,640.4 196.0,638.1 197.6,644.2 199.0,643.7 200.2,649.1 201.5,648.2 202.5,651.4 204.1,650.8 205.4,654.2 206.0,654.2 206.7,655.5 208.0,654.8 209.3,658.6 210.0,656.7 210.6,658.8 211.9,657.5 213.2,660.1 214.0,658.6 215.8,660.8 217.1,660.0 218.4,661.4 220.0,660.6 221.0,662.0 222.3,660.2 223.6,660.9 224.9,660.2 226.2,662.4 227.5,660.9 228.8,662.4 230.1,661.4 231.4,663.8 232.5,661.1 234.0,661.4 235.3,659.5 236.6,661.7 237.5,659.2 239.2,658.4 241.0,654.9 241.8,656.5 243.1,649.9 244.4,652.6 245.0,647.9 245.7,650.2 247.0,646.3 248.3,647.0 249.0,643.0 249.6,646.5 250.9,646.3 252.5,650.2 253.5,651.0 254.8,654.8 256.0,654.3 257.4,659.5 258.7,660.2 260.0,662.7 261.3,662.2 262.6,665.7 264.0,664.8 265.2,666.9 266.5,665.9 267.8,667.5 269.1,666.4 270.0,667.0 271.7,667.1 273.0,667.1 274.3,667.2 275.6,667.2 276.9,667.3 278.2,667.3 279.5,667.4 280.8,667.4 282.1,667.5 283.0,667.5 283.0,667.5" fill="#c0c0c0" stroke="none"/>
<polyline points="182.0,626.6 183.3,630.1 184.0,627.1 184.6,632.0 186.0,632.3 187.2,637.9 188.5,636.5 190.0,640.3 191.1,638.0 192.4,640.7 194.0,639.6 195.0,640.4 196.0,638.1 197.6,644.2 199.0,643.7 200.2,649.1 201.5,648.2 202.5,651.4 204.1,650.8 205.4,654.2 206.0,654.2 206.7,655.5 208.0,654.8 209.3,658.6 210.0,656.7 210.6,658.8 211.9,657.5 213.2,660.1 214.0,658.6 215.8,660.8 217.1,660.0 218.4,661.4 220.0,660.6 221.0,662.0 222.3,660.2 223.6,660.9 224.9,660.2 226.2,662.4 227.5,660.9 228.8,662.4 230.1,661.4 231.4,663.8 232.5,661.1 234.0,661.4 235.3,659.5 236.6,661.7 237.5,659.2 239.2,658.4 241.0,654.9 241.8,656.5 243.1,649.9 244.4,652.6 245.0,647.9 245.7,650.2 247.0,646.3 248.3,647.0 249.0,643.0 249.6,646.5 250.9,646.3 252.5,650.2 253.5,651.0 254.8,654.8 256.0,654.3 257.4,659.5 258.7,660.2 260.0,662.7 261.3,662.2 262.6,665.7 264.0,664.8 265.2,666.9 266.5,665.9 267.8,667.5 269.1,666.4 270.0,667.0 271.7,667.1 273.0,667.1 274.3,667.2 275.6,667.2 276.9,667.3 278.2,667.3 279.5,667.4 280.8,667.4 282.1,667.5 283.0,667.5" fill="none" stroke="#111" stroke-width="1.45" stroke-linejoin="round"/>
<line x1="214.50" y1="625.00" x2="214.50" y2="668.00" stroke="#222" stroke-width="1" stroke-dasharray="1.6,1.4"/>
<line x1="232.00" y1="625.00" x2="232.00" y2="668.00" stroke="#222" stroke-width="1" stroke-dasharray="1.6,1.4"/>
<rect x="181.25" y="625.00" width="102.50" height="43.00" fill="none" stroke="#222" stroke-width="1.20"/>
<line x1="182.25" y1="668.00" x2="182.25" y2="671.00" stroke="#333" stroke-width="0.9"/>
<line x1="189.81" y1="668.00" x2="189.81" y2="669.80" stroke="#777" stroke-width="0.6"/>
<line x1="194.24" y1="668.00" x2="194.24" y2="669.80" stroke="#777" stroke-width="0.6"/>
<line x1="197.38" y1="668.00" x2="197.38" y2="669.80" stroke="#777" stroke-width="0.6"/>
<line x1="199.81" y1="668.00" x2="199.81" y2="669.80" stroke="#777" stroke-width="0.6"/>
<line x1="201.80" y1="668.00" x2="201.80" y2="669.80" stroke="#777" stroke-width="0.6"/>
<line x1="203.48" y1="668.00" x2="203.48" y2="669.80" stroke="#777" stroke-width="0.6"/>
<line x1="204.94" y1="668.00" x2="204.94" y2="669.80" stroke="#777" stroke-width="0.6"/>
<line x1="206.23" y1="668.00" x2="206.23" y2="669.80" stroke="#777" stroke-width="0.6"/>
<line x1="207.38" y1="668.00" x2="207.38" y2="671.00" stroke="#333" stroke-width="0.9"/>
<line x1="214.94" y1="668.00" x2="214.94" y2="669.80" stroke="#777" stroke-width="0.6"/>
<line x1="219.36" y1="668.00" x2="219.36" y2="669.80" stroke="#777" stroke-width="0.6"/>
<line x1="222.50" y1="668.00" x2="222.50" y2="669.80" stroke="#777" stroke-width="0.6"/>
<line x1="224.94" y1="668.00" x2="224.94" y2="669.80" stroke="#777" stroke-width="0.6"/>
<line x1="226.93" y1="668.00" x2="226.93" y2="669.80" stroke="#777" stroke-width="0.6"/>
<line x1="228.61" y1="668.00" x2="228.61" y2="669.80" stroke="#777" stroke-width="0.6"/>
<line x1="230.07" y1="668.00" x2="230.07" y2="669.80" stroke="#777" stroke-width="0.6"/>
<line x1="231.35" y1="668.00" x2="231.35" y2="669.80" stroke="#777" stroke-width="0.6"/>
<line x1="232.50" y1="668.00" x2="232.50" y2="671.00" stroke="#333" stroke-width="0.9"/>
<line x1="240.06" y1="668.00" x2="240.06" y2="669.80" stroke="#777" stroke-width="0.6"/>
<line x1="244.49" y1="668.00" x2="244.49" y2="669.80" stroke="#777" stroke-width="0.6"/>
<line x1="247.63" y1="668.00" x2="247.63" y2="669.80" stroke="#777" stroke-width="0.6"/>
<line x1="250.06" y1="668.00" x2="250.06" y2="669.80" stroke="#777" stroke-width="0.6"/>
<line x1="252.05" y1="668.00" x2="252.05" y2="669.80" stroke="#777" stroke-width="0.6"/>
<line x1="253.73" y1="668.00" x2="253.73" y2="669.80" stroke="#777" stroke-width="0.6"/>
<line x1="255.19" y1="668.00" x2="255.19" y2="669.80" stroke="#777" stroke-width="0.6"/>
<line x1="256.48" y1="668.00" x2="256.48" y2="669.80" stroke="#777" stroke-width="0.6"/>
<line x1="257.62" y1="668.00" x2="257.62" y2="671.00" stroke="#333" stroke-width="0.9"/>
<line x1="265.19" y1="668.00" x2="265.19" y2="669.80" stroke="#777" stroke-width="0.6"/>
<line x1="269.61" y1="668.00" x2="269.61" y2="669.80" stroke="#777" stroke-width="0.6"/>
<line x1="272.75" y1="668.00" x2="272.75" y2="669.80" stroke="#777" stroke-width="0.6"/>
<line x1="275.19" y1="668.00" x2="275.19" y2="669.80" stroke="#777" stroke-width="0.6"/>
<line x1="277.18" y1="668.00" x2="277.18" y2="669.80" stroke="#777" stroke-width="0.6"/>
<line x1="278.86" y1="668.00" x2="278.86" y2="669.80" stroke="#777" stroke-width="0.6"/>
<line x1="280.32" y1="668.00" x2="280.32" y2="669.80" stroke="#777" stroke-width="0.6"/>
<line x1="281.60" y1="668.00" x2="281.60" y2="669.80" stroke="#777" stroke-width="0.6"/>
<line x1="282.75" y1="668.00" x2="282.75" y2="671.00" stroke="#333" stroke-width="0.9"/>
<line x1="181.55" y1="619.00" x2="214.10" y2="619.00" stroke="#2a2a2a" stroke-width="1.15"/>
<path d="M181.25,619.00 L185.25,616.90 L183.95,619.00 L185.25,621.10 Z" fill="#1a1a1a" stroke="#1a1a1a" stroke-width="0.7" stroke-linejoin="miter"/>
<path d="M214.40,619.00 L210.40,616.90 L211.70,619.00 L210.40,621.10 Z" fill="#1a1a1a" stroke="#1a1a1a" stroke-width="0.7" stroke-linejoin="miter"/>
<line x1="214.90" y1="619.00" x2="231.60" y2="619.00" stroke="#2a2a2a" stroke-width="1.15"/>
<path d="M214.60,619.00 L218.60,616.90 L217.30,619.00 L218.60,621.10 Z" fill="#1a1a1a" stroke="#1a1a1a" stroke-width="0.7" stroke-linejoin="miter"/>
<path d="M231.90,619.00 L227.90,616.90 L229.20,619.00 L227.90,621.10 Z" fill="#1a1a1a" stroke="#1a1a1a" stroke-width="0.7" stroke-linejoin="miter"/>
<line x1="232.40" y1="619.00" x2="283.45" y2="619.00" stroke="#2a2a2a" stroke-width="1.15"/>
<path d="M232.10,619.00 L236.10,616.90 L234.80,619.00 L236.10,621.10 Z" fill="#1a1a1a" stroke="#1a1a1a" stroke-width="0.7" stroke-linejoin="miter"/>
<path d="M283.75,619.00 L279.75,616.90 L281.05,619.00 L279.75,621.10 Z" fill="#1a1a1a" stroke="#1a1a1a" stroke-width="0.7" stroke-linejoin="miter"/>
<text x="196.90" y="615.00" font-family="Liberation Sans" font-size="10.60" font-weight="normal" text-anchor="middle" fill="#000" stroke="#000" stroke-width="0.25">55</text>
<text x="223.10" y="615.00" font-family="Liberation Sans" font-size="10.60" font-weight="normal" text-anchor="middle" fill="#000" stroke="#000" stroke-width="0.25">22</text>
<text x="256.00" y="615.00" font-family="Liberation Sans" font-size="10.60" font-weight="normal" text-anchor="middle" fill="#000" stroke="#000" stroke-width="0.25">23</text>
<polygon points="297.0,667.5 297.0,628.3 298.3,635.9 299.0,633.7 299.6,639.1 301.0,638.3 302.2,641.4 303.5,638.6 305.0,644.0 306.1,638.0 307.4,642.0 309.0,639.9 310.0,643.6 311.3,635.7 312.5,636.9 313.9,632.3 315.0,633.5 316.5,629.7 317.5,632.2 319.1,632.7 320.0,637.7 321.7,637.1 322.5,642.6 324.3,634.4 325.0,636.6 325.6,634.8 326.9,642.0 327.5,638.2 328.2,641.2 330.0,638.3 330.8,639.4 332.5,632.3 333.4,638.6 335.0,637.6 336.0,638.7 337.5,634.2 338.6,636.9 340.0,634.8 341.2,638.0 342.5,634.4 343.8,638.8 345.0,639.3 346.4,642.9 347.5,641.2 349.0,647.6 350.0,648.1 351.6,649.6 352.5,643.6 354.2,646.6 356.0,643.3 356.8,646.9 358.1,642.0 359.4,645.0 360.0,643.0 360.7,643.3 362.5,637.4 363.3,641.5 365.0,642.0 365.9,648.8 367.5,649.4 368.5,653.7 370.0,653.8 371.1,659.6 372.4,658.7 374.0,663.2 375.0,662.3 376.3,665.2 377.5,665.3 378.9,667.0 380.2,666.1 381.5,667.1 382.5,667.0 384.1,667.0 385.4,667.1 386.7,667.1 388.0,667.2 389.3,667.2 390.6,667.2 391.9,667.3 393.2,667.3 394.5,667.4 395.8,667.4 397.1,667.4 398.4,667.5 399.0,667.5 399.0,667.5" fill="#c0c0c0" stroke="none"/>
<polyline points="297.0,628.3 298.3,635.9 299.0,633.7 299.6,639.1 301.0,638.3 302.2,641.4 303.5,638.6 305.0,644.0 306.1,638.0 307.4,642.0 309.0,639.9 310.0,643.6 311.3,635.7 312.5,636.9 313.9,632.3 315.0,633.5 316.5,629.7 317.5,632.2 319.1,632.7 320.0,637.7 321.7,637.1 322.5,642.6 324.3,634.4 325.0,636.6 325.6,634.8 326.9,642.0 327.5,638.2 328.2,641.2 330.0,638.3 330.8,639.4 332.5,632.3 333.4,638.6 335.0,637.6 336.0,638.7 337.5,634.2 338.6,636.9 340.0,634.8 341.2,638.0 342.5,634.4 343.8,638.8 345.0,639.3 346.4,642.9 347.5,641.2 349.0,647.6 350.0,648.1 351.6,649.6 352.5,643.6 354.2,646.6 356.0,643.3 356.8,646.9 358.1,642.0 359.4,645.0 360.0,643.0 360.7,643.3 362.5,637.4 363.3,641.5 365.0,642.0 365.9,648.8 367.5,649.4 368.5,653.7 370.0,653.8 371.1,659.6 372.4,658.7 374.0,663.2 375.0,662.3 376.3,665.2 377.5,665.3 378.9,667.0 380.2,666.1 381.5,667.1 382.5,667.0 384.1,667.0 385.4,667.1 386.7,667.1 388.0,667.2 389.3,667.2 390.6,667.2 391.9,667.3 393.2,667.3 394.5,667.4 395.8,667.4 397.1,667.4 398.4,667.5 399.0,667.5" fill="none" stroke="#111" stroke-width="1.45" stroke-linejoin="round"/>
<line x1="330.50" y1="625.00" x2="330.50" y2="668.00" stroke="#222" stroke-width="1" stroke-dasharray="1.6,1.4"/>
<line x1="348.75" y1="625.00" x2="348.75" y2="668.00" stroke="#222" stroke-width="1" stroke-dasharray="1.6,1.4"/>
<rect x="296.25" y="625.00" width="103.25" height="43.00" fill="none" stroke="#222" stroke-width="1.20"/>
<line x1="297.25" y1="668.00" x2="297.25" y2="671.00" stroke="#333" stroke-width="0.9"/>
<line x1="304.87" y1="668.00" x2="304.87" y2="669.80" stroke="#777" stroke-width="0.6"/>
<line x1="309.33" y1="668.00" x2="309.33" y2="669.80" stroke="#777" stroke-width="0.6"/>
<line x1="312.49" y1="668.00" x2="312.49" y2="669.80" stroke="#777" stroke-width="0.6"/>
<line x1="314.94" y1="668.00" x2="314.94" y2="669.80" stroke="#777" stroke-width="0.6"/>
<line x1="316.95" y1="668.00" x2="316.95" y2="669.80" stroke="#777" stroke-width="0.6"/>
<line x1="318.64" y1="668.00" x2="318.64" y2="669.80" stroke="#777" stroke-width="0.6"/>
<line x1="320.11" y1="668.00" x2="320.11" y2="669.80" stroke="#777" stroke-width="0.6"/>
<line x1="321.40" y1="668.00" x2="321.40" y2="669.80" stroke="#777" stroke-width="0.6"/>
<line x1="322.56" y1="668.00" x2="322.56" y2="671.00" stroke="#333" stroke-width="0.9"/>
<line x1="330.18" y1="668.00" x2="330.18" y2="669.80" stroke="#777" stroke-width="0.6"/>
<line x1="334.64" y1="668.00" x2="334.64" y2="669.80" stroke="#777" stroke-width="0.6"/>
<line x1="337.80" y1="668.00" x2="337.80" y2="669.80" stroke="#777" stroke-width="0.6"/>
<line x1="340.26" y1="668.00" x2="340.26" y2="669.80" stroke="#777" stroke-width="0.6"/>
<line x1="342.26" y1="668.00" x2="342.26" y2="669.80" stroke="#777" stroke-width="0.6"/>
<line x1="343.95" y1="668.00" x2="343.95" y2="669.80" stroke="#777" stroke-width="0.6"/>
<line x1="345.42" y1="668.00" x2="345.42" y2="669.80" stroke="#777" stroke-width="0.6"/>
<line x1="346.72" y1="668.00" x2="346.72" y2="669.80" stroke="#777" stroke-width="0.6"/>
<line x1="347.88" y1="668.00" x2="347.88" y2="671.00" stroke="#333" stroke-width="0.9"/>
<line x1="355.49" y1="668.00" x2="355.49" y2="669.80" stroke="#777" stroke-width="0.6"/>
<line x1="359.95" y1="668.00" x2="359.95" y2="669.80" stroke="#777" stroke-width="0.6"/>
<line x1="363.11" y1="668.00" x2="363.11" y2="669.80" stroke="#777" stroke-width="0.6"/>
<line x1="365.57" y1="668.00" x2="365.57" y2="669.80" stroke="#777" stroke-width="0.6"/>
<line x1="367.57" y1="668.00" x2="367.57" y2="669.80" stroke="#777" stroke-width="0.6"/>
<line x1="369.27" y1="668.00" x2="369.27" y2="669.80" stroke="#777" stroke-width="0.6"/>
<line x1="370.73" y1="668.00" x2="370.73" y2="669.80" stroke="#777" stroke-width="0.6"/>
<line x1="372.03" y1="668.00" x2="372.03" y2="669.80" stroke="#777" stroke-width="0.6"/>
<line x1="373.19" y1="668.00" x2="373.19" y2="671.00" stroke="#333" stroke-width="0.9"/>
<line x1="380.81" y1="668.00" x2="380.81" y2="669.80" stroke="#777" stroke-width="0.6"/>
<line x1="385.26" y1="668.00" x2="385.26" y2="669.80" stroke="#777" stroke-width="0.6"/>
<line x1="388.43" y1="668.00" x2="388.43" y2="669.80" stroke="#777" stroke-width="0.6"/>
<line x1="390.88" y1="668.00" x2="390.88" y2="669.80" stroke="#777" stroke-width="0.6"/>
<line x1="392.88" y1="668.00" x2="392.88" y2="669.80" stroke="#777" stroke-width="0.6"/>
<line x1="394.58" y1="668.00" x2="394.58" y2="669.80" stroke="#777" stroke-width="0.6"/>
<line x1="396.05" y1="668.00" x2="396.05" y2="669.80" stroke="#777" stroke-width="0.6"/>
<line x1="397.34" y1="668.00" x2="397.34" y2="669.80" stroke="#777" stroke-width="0.6"/>
<line x1="398.50" y1="668.00" x2="398.50" y2="671.00" stroke="#333" stroke-width="0.9"/>
<line x1="296.55" y1="619.00" x2="330.10" y2="619.00" stroke="#2a2a2a" stroke-width="1.15"/>
<path d="M296.25,619.00 L300.25,616.90 L298.95,619.00 L300.25,621.10 Z" fill="#1a1a1a" stroke="#1a1a1a" stroke-width="0.7" stroke-linejoin="miter"/>
<path d="M330.40,619.00 L326.40,616.90 L327.70,619.00 L326.40,621.10 Z" fill="#1a1a1a" stroke="#1a1a1a" stroke-width="0.7" stroke-linejoin="miter"/>
<line x1="330.90" y1="619.00" x2="348.35" y2="619.00" stroke="#2a2a2a" stroke-width="1.15"/>
<path d="M330.60,619.00 L334.60,616.90 L333.30,619.00 L334.60,621.10 Z" fill="#1a1a1a" stroke="#1a1a1a" stroke-width="0.7" stroke-linejoin="miter"/>
<path d="M348.65,619.00 L344.65,616.90 L345.95,619.00 L344.65,621.10 Z" fill="#1a1a1a" stroke="#1a1a1a" stroke-width="0.7" stroke-linejoin="miter"/>
<line x1="349.15" y1="619.00" x2="399.20" y2="619.00" stroke="#2a2a2a" stroke-width="1.15"/>
<path d="M348.85,619.00 L352.85,616.90 L351.55,619.00 L352.85,621.10 Z" fill="#1a1a1a" stroke="#1a1a1a" stroke-width="0.7" stroke-linejoin="miter"/>
<path d="M399.50,619.00 L395.50,616.90 L396.80,619.00 L395.50,621.10 Z" fill="#1a1a1a" stroke="#1a1a1a" stroke-width="0.7" stroke-linejoin="miter"/>
<text x="313.10" y="615.00" font-family="Liberation Sans" font-size="10.60" font-weight="normal" text-anchor="middle" fill="#000" stroke="#000" stroke-width="0.25">70</text>
<text x="340.00" y="615.00" font-family="Liberation Sans" font-size="10.60" font-weight="normal" text-anchor="middle" fill="#000" stroke="#000" stroke-width="0.25">6</text>
<text x="372.10" y="615.00" font-family="Liberation Sans" font-size="10.60" font-weight="normal" text-anchor="middle" fill="#000" stroke="#000" stroke-width="0.25">24</text>
<polygon points="413.3,667.5 413.3,649.7 414.3,649.7 415.3,649.7 416.3,649.7 417.3,649.7 418.3,649.7 419.3,649.7 420.3,649.7 421.3,649.7 422.3,649.7 423.3,649.7 424.3,649.7 425.3,649.7 426.3,649.7 427.0,649.7 428.5,645.0 429.3,644.1 430.0,643.3 431.3,643.3 432.3,643.3 433.3,643.3 434.3,643.3 435.3,643.3 436.3,643.3 437.0,643.3 438.3,645.2 439.3,646.8 440.3,648.2 441.3,649.8 442.0,650.8 443.3,654.2 444.0,656.0 445.3,658.6 446.0,660.0 447.3,660.5 448.3,660.9 449.3,661.3 450.3,661.7 451.3,662.1 452.3,662.5 453.3,662.8 454.3,663.2 455.0,663.5 456.3,663.9 457.3,664.2 458.3,664.4 459.3,664.7 460.3,665.0 461.3,665.3 462.0,665.5 463.3,665.8 464.3,666.0 465.3,666.2 466.3,666.4 467.3,666.6 468.3,666.8 469.3,667.1 470.0,667.2 470.0,667.5" fill="#d0d0d0" stroke="none"/>
<polyline points="413.3,637.6 413.8,649.9 414.5,650.5 415.0,652.0 415.7,646.5 416.3,642.2 417.0,640.0 417.5,644.9 418.0,644.7 418.7,650.2 419.0,645.6 419.3,644.4 419.9,646.2 420.5,642.8 421.0,637.9 421.7,642.0 422.3,639.9 423.0,642.2 423.5,643.3 424.1,644.8 424.7,644.4 425.0,646.8 425.3,641.8 425.9,646.0 426.5,639.6 427.0,635.2 427.7,646.8 428.0,656.5 428.3,652.4 429.0,636.5 429.5,641.4 430.1,641.4 430.7,633.8 431.0,629.7 431.3,633.1 431.9,635.7 432.5,634.5 433.0,640.2 433.7,637.6 434.0,647.4 434.3,642.8 434.9,632.6 435.5,625.0 436.1,629.3 436.7,637.2 437.0,637.7 437.3,638.4 437.9,636.6 438.5,631.3 439.0,633.6 439.7,636.9 440.0,640.0 440.3,643.6 440.9,637.1 441.5,635.3 442.1,645.6 442.5,649.3 443.3,650.2 444.0,653.3 444.5,653.8 445.0,653.3 445.7,652.6 446.0,655.0 446.3,654.1 447.0,649.8 447.5,654.8 448.0,653.1 448.7,645.7 449.5,642.8 449.9,649.7 450.5,653.7 451.1,661.0 451.7,662.3 452.0,663.0 452.3,662.4 452.9,659.2 453.5,656.4 454.0,655.3 454.7,656.0 455.0,656.8 455.3,657.2 455.9,659.1 456.5,658.6 457.0,661.1 457.7,660.4 458.5,663.2 458.9,664.4 459.5,666.4 460.0,665.8 460.7,663.1 461.3,663.8 462.0,660.6 462.5,660.7 463.0,662.6 463.7,664.3 464.3,663.8 465.0,663.5 465.5,663.6 466.1,663.3 466.7,665.4 467.3,662.9 468.0,661.8 468.5,664.4 469.1,665.8 469.7,664.4 470.3,663.6 470.9,666.3 471.5,663.3 472.1,665.9 472.7,667.0 473.3,665.9 473.9,665.6 474.5,663.3 475.0,665.1 475.7,667.3 476.3,665.8 476.9,664.1 477.5,664.1 478.1,667.4 478.7,666.4 479.3,663.2 479.9,664.6 480.5,667.3 481.1,663.8 481.7,667.4 482.3,664.4 482.9,664.4 483.5,664.6 484.1,665.3 484.7,664.1 485.3,667.5 485.9,667.3 486.5,665.0 487.1,665.9 487.7,664.6 488.3,667.5 488.9,667.5 489.5,664.4 490.1,667.5 490.7,666.9 491.0,665.0 491.3,666.6 491.9,663.2 492.3,664.7 493.1,663.7 493.5,665.4 494.3,667.5 494.9,667.5 495.5,667.5 496.1,666.3 496.7,665.5 497.3,666.2 497.9,667.5 498.5,666.7 499.1,667.0 499.7,665.1 500.3,667.5 500.9,667.5 501.5,666.2 502.1,666.0 502.7,665.3 503.3,666.2 503.9,666.1 504.5,666.5 505.1,667.5 505.7,665.9 506.3,666.9 506.9,666.9 507.5,667.0 508.1,667.0 508.7,667.0 509.3,667.0 509.9,667.0 510.5,667.1 511.1,667.1 511.7,667.1 512.3,667.1 512.9,667.1 513.5,667.2 514.1,667.2 514.7,667.2 515.0,667.2" fill="none" stroke="#111" stroke-width="1.20" stroke-linejoin="round"/>
<line x1="446.80" y1="625.00" x2="446.80" y2="668.00" stroke="#222" stroke-width="1" stroke-dasharray="1.6,1.4"/>
<line x1="465.30" y1="625.00" x2="465.30" y2="668.00" stroke="#222" stroke-width="1" stroke-dasharray="1.6,1.4"/>
<rect x="412.70" y="625.00" width="102.70" height="43.00" fill="none" stroke="#222" stroke-width="1.20"/>
<line x1="413.70" y1="668.00" x2="413.70" y2="671.00" stroke="#333" stroke-width="0.9"/>
<line x1="421.28" y1="668.00" x2="421.28" y2="669.80" stroke="#777" stroke-width="0.6"/>
<line x1="425.71" y1="668.00" x2="425.71" y2="669.80" stroke="#777" stroke-width="0.6"/>
<line x1="428.86" y1="668.00" x2="428.86" y2="669.80" stroke="#777" stroke-width="0.6"/>
<line x1="431.30" y1="668.00" x2="431.30" y2="669.80" stroke="#777" stroke-width="0.6"/>
<line x1="433.29" y1="668.00" x2="433.29" y2="669.80" stroke="#777" stroke-width="0.6"/>
<line x1="434.98" y1="668.00" x2="434.98" y2="669.80" stroke="#777" stroke-width="0.6"/>
<line x1="436.44" y1="668.00" x2="436.44" y2="669.80" stroke="#777" stroke-width="0.6"/>
<line x1="437.72" y1="668.00" x2="437.72" y2="669.80" stroke="#777" stroke-width="0.6"/>
<line x1="438.88" y1="668.00" x2="438.88" y2="671.00" stroke="#333" stroke-width="0.9"/>
<line x1="446.45" y1="668.00" x2="446.45" y2="669.80" stroke="#777" stroke-width="0.6"/>
<line x1="450.89" y1="668.00" x2="450.89" y2="669.80" stroke="#777" stroke-width="0.6"/>
<line x1="454.03" y1="668.00" x2="454.03" y2="669.80" stroke="#777" stroke-width="0.6"/>
<line x1="456.47" y1="668.00" x2="456.47" y2="669.80" stroke="#777" stroke-width="0.6"/>
<line x1="458.46" y1="668.00" x2="458.46" y2="669.80" stroke="#777" stroke-width="0.6"/>
<line x1="460.15" y1="668.00" x2="460.15" y2="669.80" stroke="#777" stroke-width="0.6"/>
<line x1="461.61" y1="668.00" x2="461.61" y2="669.80" stroke="#777" stroke-width="0.6"/>
<line x1="462.90" y1="668.00" x2="462.90" y2="669.80" stroke="#777" stroke-width="0.6"/>
<line x1="464.05" y1="668.00" x2="464.05" y2="671.00" stroke="#333" stroke-width="0.9"/>
<line x1="471.63" y1="668.00" x2="471.63" y2="669.80" stroke="#777" stroke-width="0.6"/>
<line x1="476.06" y1="668.00" x2="476.06" y2="669.80" stroke="#777" stroke-width="0.6"/>
<line x1="479.21" y1="668.00" x2="479.21" y2="669.80" stroke="#777" stroke-width="0.6"/>
<line x1="481.65" y1="668.00" x2="481.65" y2="669.80" stroke="#777" stroke-width="0.6"/>
<line x1="483.64" y1="668.00" x2="483.64" y2="669.80" stroke="#777" stroke-width="0.6"/>
<line x1="485.33" y1="668.00" x2="485.33" y2="669.80" stroke="#777" stroke-width="0.6"/>
<line x1="486.79" y1="668.00" x2="486.79" y2="669.80" stroke="#777" stroke-width="0.6"/>
<line x1="488.07" y1="668.00" x2="488.07" y2="669.80" stroke="#777" stroke-width="0.6"/>
<line x1="489.22" y1="668.00" x2="489.22" y2="671.00" stroke="#333" stroke-width="0.9"/>
<line x1="496.80" y1="668.00" x2="496.80" y2="669.80" stroke="#777" stroke-width="0.6"/>
<line x1="501.24" y1="668.00" x2="501.24" y2="669.80" stroke="#777" stroke-width="0.6"/>
<line x1="504.38" y1="668.00" x2="504.38" y2="669.80" stroke="#777" stroke-width="0.6"/>
<line x1="506.82" y1="668.00" x2="506.82" y2="669.80" stroke="#777" stroke-width="0.6"/>
<line x1="508.81" y1="668.00" x2="508.81" y2="669.80" stroke="#777" stroke-width="0.6"/>
<line x1="510.50" y1="668.00" x2="510.50" y2="669.80" stroke="#777" stroke-width="0.6"/>
<line x1="511.96" y1="668.00" x2="511.96" y2="669.80" stroke="#777" stroke-width="0.6"/>
<line x1="513.25" y1="668.00" x2="513.25" y2="669.80" stroke="#777" stroke-width="0.6"/>
<line x1="514.40" y1="668.00" x2="514.40" y2="671.00" stroke="#333" stroke-width="0.9"/>
<line x1="413.00" y1="619.00" x2="446.40" y2="619.00" stroke="#2a2a2a" stroke-width="1.15"/>
<path d="M412.70,619.00 L416.70,616.90 L415.40,619.00 L416.70,621.10 Z" fill="#1a1a1a" stroke="#1a1a1a" stroke-width="0.7" stroke-linejoin="miter"/>
<path d="M446.70,619.00 L442.70,616.90 L444.00,619.00 L442.70,621.10 Z" fill="#1a1a1a" stroke="#1a1a1a" stroke-width="0.7" stroke-linejoin="miter"/>
<line x1="447.20" y1="619.00" x2="464.90" y2="619.00" stroke="#2a2a2a" stroke-width="1.15"/>
<path d="M446.90,619.00 L450.90,616.90 L449.60,619.00 L450.90,621.10 Z" fill="#1a1a1a" stroke="#1a1a1a" stroke-width="0.7" stroke-linejoin="miter"/>
<path d="M465.20,619.00 L461.20,616.90 L462.50,619.00 L461.20,621.10 Z" fill="#1a1a1a" stroke="#1a1a1a" stroke-width="0.7" stroke-linejoin="miter"/>
<line x1="465.70" y1="619.00" x2="515.10" y2="619.00" stroke="#2a2a2a" stroke-width="1.15"/>
<path d="M465.40,619.00 L469.40,616.90 L468.10,619.00 L469.40,621.10 Z" fill="#1a1a1a" stroke="#1a1a1a" stroke-width="0.7" stroke-linejoin="miter"/>
<path d="M515.40,619.00 L511.40,616.90 L512.70,619.00 L511.40,621.10 Z" fill="#1a1a1a" stroke="#1a1a1a" stroke-width="0.7" stroke-linejoin="miter"/>
<text x="427.70" y="615.00" font-family="Liberation Sans" font-size="10.60" font-weight="normal" text-anchor="middle" fill="#000" stroke="#000" stroke-width="0.25">88</text>
<text x="455.70" y="615.00" font-family="Liberation Sans" font-size="10.60" font-weight="normal" text-anchor="middle" fill="#000" stroke="#000" stroke-width="0.25">10</text>
<text x="488.85" y="615.00" font-family="Liberation Sans" font-size="10.60" font-weight="normal" text-anchor="middle" fill="#000" stroke="#000" stroke-width="0.25">2</text>
<text x="2.00" y="565.70" font-family="Liberation Sans" font-size="12.50" font-weight="bold" text-anchor="start" fill="#000" >DC</text>
<text x="24.50" y="560.00" font-family="Liberation Sans" font-size="8.30" font-weight="bold" text-anchor="start" fill="#000" >B220<tspan font-size="7" dy="-2.5">+</tspan></text>
<text x="24.50" y="568.80" font-family="Liberation Sans" font-size="9.00" font-weight="bold" text-anchor="start" fill="#000" >CD11c</text>
<text x="51.80" y="565.70" font-family="Liberation Sans" font-size="8.00" font-weight="normal" text-anchor="start" fill="#000" >int</text>
<text x="2.00" y="650.70" font-family="Liberation Sans" font-size="12.50" font-weight="bold" text-anchor="start" fill="#000" >DC</text>
<text x="24.50" y="645.00" font-family="Liberation Sans" font-size="8.30" font-weight="bold" text-anchor="start" fill="#000" >B220<tspan font-size="7" dy="-2.5">–</tspan></text>
<text x="24.50" y="653.80" font-family="Liberation Sans" font-size="9.00" font-weight="bold" text-anchor="start" fill="#000" >CD11c</text>
<text x="51.80" y="650.70" font-family="Liberation Sans" font-size="8.00" font-weight="normal" text-anchor="start" fill="#000" >hi</text>
<text x="66.00" y="695.00" font-family="Liberation Sans" font-size="12.00" font-weight="bold" text-anchor="start" fill="#000" >CD8<tspan font-style="italic" font-family="Liberation Serif" font-size="15" dx="0.5" stroke="#000" stroke-width="0.5">α</tspan></text>
<line x1="104" y1="692.5" x2="518.5" y2="692.5" stroke="#333" stroke-width="1"/>
<path d="M513.5,689.3 L518.6,692.5 L513.5,695.7" fill="none" stroke="#333" stroke-width="1"/>
</svg>
</body></html>
